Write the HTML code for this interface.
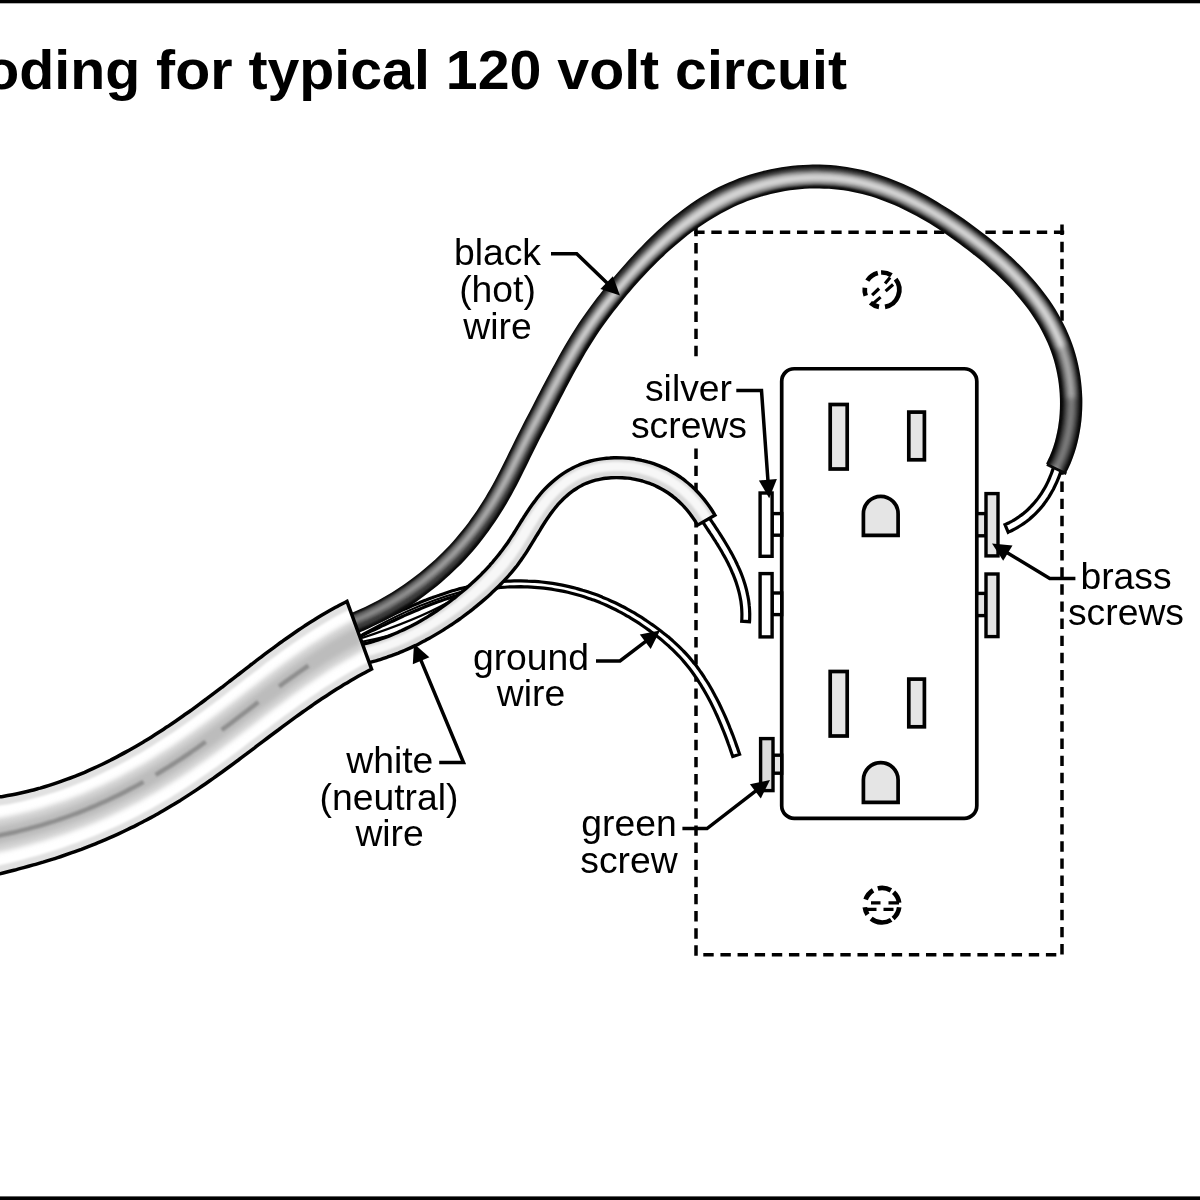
<!DOCTYPE html>
<html lang="en">
<head>
<meta charset="utf-8">
<title>Color coding for typical 120 volt circuit</title>
<style>
html,body{margin:0;padding:0;background:#fff;}
body{width:1200px;height:1200px;overflow:hidden;font-family:"Liberation Sans",sans-serif;}
svg{display:block;}
</style>
</head>
<body>
<svg width="1200" height="1200" viewBox="0 0 1200 1200">
<defs>
<filter id="b1" x="-5%" y="-5%" width="110%" height="110%"><feGaussianBlur stdDeviation="1.3"/></filter>
<filter id="b2" x="-5%" y="-5%" width="110%" height="110%"><feGaussianBlur stdDeviation="2.6"/></filter>
<filter id="b3" x="-5%" y="-5%" width="110%" height="110%"><feGaussianBlur stdDeviation="0.9"/></filter>
<linearGradient id="g2" gradientUnits="userSpaceOnUse" x1="350" y1="620" x2="600" y2="320"><stop offset="0" stop-color="#5c5c5c"/><stop offset="0.55" stop-color="#707070"/><stop offset="1" stop-color="#7c7c7c"/></linearGradient>
<linearGradient id="g3" gradientUnits="userSpaceOnUse" x1="350" y1="620" x2="600" y2="320"><stop offset="0" stop-color="#747474"/><stop offset="0.55" stop-color="#989898"/><stop offset="1" stop-color="#b2b2b2"/></linearGradient>
<linearGradient id="g4" gradientUnits="userSpaceOnUse" x1="350" y1="620" x2="600" y2="320"><stop offset="0" stop-color="#8e8e8e"/><stop offset="0.55" stop-color="#b6b6b6"/><stop offset="1" stop-color="#d2d2d2"/></linearGradient>
<clipPath id="cBlack"><path d="M332.8 620.1C334.4 619.5 339.1 617.9 342.2 616.8C345.2 615.6 348.3 614.4 351.4 613.1C354.5 611.9 357.5 610.5 360.5 609.1C363.6 607.8 366.6 606.3 369.5 604.8C372.5 603.4 375.5 601.8 378.4 600.2C381.3 598.6 384.2 597.0 387.1 595.3C390.0 593.6 392.9 591.8 395.7 590.0C398.5 588.2 401.3 586.4 404.0 584.5C406.8 582.6 409.5 580.6 412.2 578.6C414.9 576.7 417.5 574.6 420.1 572.5C422.7 570.4 425.3 568.3 427.8 566.1C430.4 564.0 432.8 561.7 435.3 559.5C437.7 557.2 440.1 554.9 442.5 552.5C444.8 550.2 447.1 547.8 449.4 545.4C451.7 542.9 453.9 540.5 456.0 538.0C458.2 535.4 460.3 532.9 462.4 530.3C464.4 527.7 466.5 525.1 468.5 522.4C470.4 519.7 472.4 517.0 474.3 514.3C476.2 511.6 478.0 508.8 479.8 506.0C481.7 503.2 483.4 500.3 485.2 497.5C486.9 494.6 488.6 491.7 490.3 488.8C491.9 485.9 493.5 483.0 495.1 480.0C496.7 477.1 498.2 474.1 499.8 471.1C501.3 468.1 502.8 465.0 504.3 462.0C505.8 458.9 507.3 455.8 508.8 452.7C510.3 449.7 511.9 446.5 513.4 443.4C514.9 440.3 516.5 437.2 518.1 434.1C519.7 431.0 521.2 427.9 522.8 424.8C524.4 421.7 526.0 418.7 527.6 415.6C529.2 412.5 530.8 409.5 532.3 406.4C533.9 403.3 535.5 400.2 537.1 397.1C538.7 394.0 540.3 390.9 541.9 387.8C543.5 384.7 545.1 381.6 546.8 378.5C548.4 375.4 550.1 372.3 551.7 369.2C553.4 366.1 555.1 363.0 556.8 359.9C558.5 356.8 560.2 353.7 561.9 350.7C563.7 347.6 565.5 344.6 567.3 341.5C569.1 338.5 570.9 335.5 572.8 332.5C574.7 329.5 576.6 326.6 578.5 323.6C580.4 320.7 582.4 317.8 584.4 314.9C586.4 312.1 588.5 309.2 590.5 306.4C592.6 303.6 594.7 300.8 596.8 298.0C599.0 295.3 601.1 292.6 603.3 289.8C605.5 287.1 607.7 284.4 609.9 281.7C612.2 279.0 614.4 276.4 616.7 273.7C619.0 271.1 621.3 268.4 623.7 265.7C626.0 263.1 628.4 260.4 630.8 257.8C633.1 255.2 635.6 252.5 638.0 249.9C640.5 247.4 643.0 244.8 645.5 242.2C648.0 239.7 650.6 237.2 653.2 234.7C655.8 232.2 658.4 229.8 661.1 227.4C663.8 225.0 666.5 222.6 669.3 220.3C672.0 218.0 674.8 215.7 677.7 213.5C680.5 211.3 683.4 209.1 686.3 207.0C689.3 204.9 692.2 202.8 695.2 200.8C698.3 198.8 701.3 196.8 704.4 195.0C707.5 193.1 710.7 191.3 713.9 189.6C717.1 187.9 720.4 186.3 723.7 184.8C727.0 183.2 730.4 181.8 733.8 180.4C737.2 179.1 740.6 177.8 744.1 176.6C747.6 175.4 751.1 174.3 754.6 173.3C758.1 172.2 761.7 171.3 765.2 170.5C768.8 169.6 772.4 168.9 776.0 168.2C779.6 167.5 783.2 167.0 786.9 166.5C790.5 166.0 794.2 165.6 797.8 165.3C801.4 165.0 805.1 164.8 808.8 164.7C812.4 164.6 816.1 164.5 819.7 164.6C823.4 164.7 827.0 164.8 830.6 165.1C834.3 165.4 837.9 165.7 841.5 166.2C845.1 166.7 848.7 167.2 852.2 167.9C855.8 168.5 859.3 169.3 862.8 170.1C866.3 171.0 869.8 171.9 873.2 172.9C876.7 173.9 880.1 175.0 883.5 176.2C886.9 177.3 890.2 178.6 893.6 179.9C896.9 181.2 900.2 182.6 903.5 184.1C906.7 185.5 910.0 187.1 913.2 188.6C916.4 190.2 919.6 191.9 922.8 193.6C925.9 195.3 929.1 197.0 932.2 198.8C935.3 200.6 938.4 202.5 941.5 204.4C944.5 206.2 947.6 208.2 950.6 210.1C953.6 212.1 956.6 214.1 959.6 216.1C962.6 218.2 965.5 220.2 968.5 222.3C971.4 224.4 974.3 226.6 977.2 228.7C980.1 230.9 982.9 233.1 985.8 235.3C988.6 237.5 991.4 239.8 994.2 242.1C997.0 244.4 999.8 246.7 1002.5 249.1C1005.2 251.5 1007.9 253.9 1010.6 256.3C1013.2 258.7 1015.9 261.2 1018.4 263.8C1021.0 266.3 1023.5 268.9 1026.0 271.5C1028.5 274.1 1030.9 276.7 1033.3 279.4C1035.6 282.1 1037.9 284.9 1040.2 287.7C1042.4 290.5 1044.6 293.3 1046.7 296.2C1048.8 299.1 1050.8 302.0 1052.8 305.0C1054.8 308.0 1056.6 311.1 1058.4 314.2C1060.2 317.3 1061.9 320.5 1063.5 323.7C1065.2 326.9 1066.7 330.2 1068.1 333.5C1069.6 336.8 1070.9 340.2 1072.1 343.6C1073.4 347.0 1074.5 350.5 1075.5 354.1C1076.5 357.6 1077.4 361.2 1078.2 364.8C1079.0 368.4 1079.7 372.1 1080.3 375.7C1080.8 379.4 1081.3 383.1 1081.6 386.8C1081.9 390.5 1082.2 394.3 1082.3 398.0C1082.4 401.7 1082.3 405.5 1082.2 409.2C1082.0 413.0 1081.8 416.7 1081.4 420.4C1081.0 424.1 1080.5 427.9 1079.8 431.5C1079.2 435.2 1078.4 438.9 1077.5 442.5C1076.6 446.1 1075.6 449.7 1074.4 453.3C1073.2 456.8 1071.9 460.4 1070.5 463.8C1069.0 467.2 1066.5 472.3 1065.7 474.0L1046.2 463.8C1046.8 462.4 1048.9 458.2 1050.1 455.3C1051.3 452.4 1052.4 449.4 1053.4 446.4C1054.4 443.4 1055.3 440.3 1056.0 437.2C1056.8 434.1 1057.4 430.9 1058.0 427.8C1058.5 424.6 1058.9 421.4 1059.3 418.2C1059.6 414.9 1059.8 411.7 1059.9 408.4C1060.0 405.2 1060.0 401.9 1059.9 398.6C1059.8 395.4 1059.6 392.1 1059.3 388.9C1059.0 385.6 1058.6 382.4 1058.1 379.2C1057.6 376.0 1057.0 372.8 1056.3 369.7C1055.6 366.5 1054.8 363.4 1053.9 360.3C1053.0 357.3 1052.0 354.3 1050.9 351.3C1049.8 348.3 1048.6 345.4 1047.4 342.5C1046.1 339.6 1044.7 336.7 1043.3 333.9C1041.9 331.1 1040.4 328.4 1038.8 325.6C1037.2 322.9 1035.5 320.2 1033.7 317.5C1032.0 314.9 1030.2 312.2 1028.3 309.6C1026.4 307.0 1024.4 304.5 1022.4 301.9C1020.4 299.4 1018.3 296.9 1016.1 294.4C1014.0 291.9 1011.7 289.5 1009.5 287.1C1007.2 284.7 1004.9 282.3 1002.5 280.0C1000.1 277.6 997.7 275.3 995.2 273.0C992.7 270.7 990.2 268.5 987.6 266.2C985.1 264.0 982.4 261.8 979.8 259.6C977.2 257.4 974.5 255.3 971.8 253.2C969.1 251.0 966.3 248.9 963.6 246.9C960.8 244.8 958.0 242.7 955.2 240.7C952.4 238.7 949.6 236.7 946.8 234.8C944.0 232.9 941.1 230.9 938.3 229.1C935.4 227.2 932.5 225.4 929.7 223.6C926.8 221.9 923.9 220.1 920.9 218.5C918.0 216.8 915.1 215.2 912.1 213.7C909.2 212.1 906.2 210.7 903.2 209.2C900.2 207.8 897.2 206.4 894.2 205.1C891.2 203.8 888.2 202.6 885.2 201.4C882.1 200.3 879.1 199.2 876.0 198.1C873.0 197.1 869.9 196.2 866.8 195.3C863.7 194.4 860.6 193.6 857.5 192.9C854.4 192.2 851.2 191.6 848.1 191.0C844.9 190.5 841.8 190.0 838.6 189.7C835.4 189.3 832.2 189.0 829.0 188.8C825.8 188.6 822.5 188.5 819.3 188.4C816.1 188.4 812.8 188.4 809.6 188.5C806.3 188.7 803.1 188.9 799.8 189.2C796.6 189.4 793.3 189.8 790.1 190.3C786.9 190.7 783.6 191.2 780.4 191.9C777.2 192.5 774.0 193.1 770.8 193.9C767.7 194.7 764.5 195.5 761.4 196.5C758.2 197.4 755.1 198.4 752.0 199.5C749.0 200.5 745.9 201.7 742.9 202.9C739.9 204.1 736.9 205.4 734.0 206.8C731.0 208.2 728.2 209.7 725.3 211.2C722.4 212.7 719.5 214.2 716.7 215.9C713.9 217.5 711.0 219.2 708.3 220.9C705.5 222.7 702.7 224.5 700.0 226.4C697.3 228.2 694.6 230.2 691.9 232.1C689.2 234.1 686.6 236.2 684.0 238.2C681.4 240.3 678.8 242.5 676.2 244.7C673.7 246.8 671.1 249.1 668.6 251.3C666.1 253.6 663.7 255.9 661.2 258.3C658.8 260.6 656.3 263.0 653.9 265.4C651.5 267.8 649.2 270.2 646.8 272.7C644.5 275.2 642.1 277.6 639.8 280.2C637.6 282.7 635.3 285.2 633.1 287.8C630.9 290.4 628.7 293.0 626.5 295.6C624.4 298.2 622.2 300.8 620.1 303.4C618.0 306.0 616.0 308.6 613.9 311.2C611.9 313.9 609.9 316.5 607.9 319.2C606.0 321.9 604.0 324.6 602.1 327.3C600.2 330.0 598.4 332.8 596.5 335.6C594.7 338.3 592.9 341.1 591.1 344.0C589.3 346.8 587.6 349.7 585.8 352.6C584.1 355.5 582.4 358.5 580.7 361.4C579.0 364.4 577.3 367.3 575.7 370.3C574.0 373.3 572.4 376.4 570.7 379.4C569.1 382.4 567.5 385.5 565.9 388.5C564.3 391.6 562.7 394.7 561.1 397.7C559.5 400.8 557.9 403.9 556.3 407.0C554.7 410.1 553.1 413.2 551.6 416.3C550.0 419.4 548.4 422.5 546.8 425.5C545.2 428.6 543.6 431.7 542.0 434.7C540.4 437.8 538.9 440.8 537.3 443.9C535.8 446.9 534.3 449.9 532.8 453.0C531.3 456.0 529.8 459.1 528.3 462.2C526.8 465.3 525.2 468.4 523.7 471.5C522.2 474.6 520.6 477.8 519.0 480.9C517.4 484.0 515.8 487.2 514.1 490.3C512.5 493.4 510.7 496.5 509.0 499.5C507.2 502.6 505.4 505.7 503.6 508.7C501.7 511.7 499.8 514.7 497.9 517.7C495.9 520.7 493.9 523.6 491.9 526.5C489.8 529.5 487.8 532.4 485.6 535.2C483.5 538.1 481.3 540.9 479.1 543.7C476.8 546.5 474.5 549.2 472.2 551.9C469.8 554.6 467.4 557.3 465.0 559.9C462.5 562.5 460.0 565.1 457.5 567.6C454.9 570.2 452.3 572.6 449.7 575.1C447.1 577.5 444.4 579.9 441.6 582.2C438.9 584.6 436.1 586.8 433.3 589.1C430.5 591.3 427.6 593.5 424.8 595.6C421.9 597.8 418.9 599.8 416.0 601.9C413.0 603.9 410.0 605.9 407.0 607.8C403.9 609.7 400.9 611.6 397.8 613.4C394.7 615.2 391.6 617.0 388.4 618.7C385.2 620.4 382.1 622.0 378.9 623.6C375.7 625.2 372.4 626.7 369.2 628.2C365.9 629.7 362.6 631.1 359.3 632.4C356.1 633.8 352.7 635.1 349.4 636.3C346.1 637.5 341.0 639.2 339.4 639.8Z"/></clipPath>
<clipPath id="cWhite"><path d="M343.5 648.1C344.4 647.9 347.2 647.5 349.0 647.2C350.8 646.9 352.6 646.5 354.4 646.2C356.2 645.8 358.0 645.4 359.8 645.0C361.6 644.6 363.4 644.2 365.1 643.7C366.9 643.2 368.7 642.8 370.4 642.3C372.2 641.8 374.0 641.2 375.7 640.7C377.4 640.1 379.2 639.5 380.9 638.9C382.6 638.4 384.4 637.7 386.1 637.1C387.8 636.5 389.5 635.8 391.2 635.1C392.9 634.4 394.6 633.7 396.3 633.0C397.9 632.3 399.6 631.5 401.3 630.8C403.0 630.0 404.6 629.2 406.3 628.4C407.9 627.6 409.6 626.8 411.2 626.0C412.8 625.1 414.5 624.3 416.1 623.4C417.7 622.5 419.3 621.6 420.9 620.7C422.5 619.8 424.1 618.9 425.7 617.9C427.3 617.0 428.8 616.0 430.4 615.0C432.0 614.0 433.5 613.0 435.0 612.0C436.6 611.0 438.1 609.9 439.6 608.9C441.2 607.8 442.7 606.8 444.2 605.7C445.7 604.6 447.2 603.5 448.7 602.4C450.2 601.3 451.6 600.1 453.1 599.0C454.6 597.9 456.0 596.7 457.5 595.5C458.9 594.4 460.4 593.2 461.8 592.0C463.2 590.8 464.7 589.6 466.1 588.4C467.5 587.2 468.9 586.0 470.2 584.7C471.6 583.5 473.0 582.3 474.3 581.0C475.7 579.7 477.0 578.5 478.3 577.2C479.7 575.9 481.0 574.6 482.2 573.3C483.5 572.0 484.8 570.7 486.1 569.3C487.3 568.0 488.5 566.7 489.8 565.3C491.0 563.9 492.2 562.6 493.3 561.2C494.5 559.8 495.7 558.4 496.8 557.0C498.0 555.6 499.1 554.2 500.2 552.7C501.4 551.3 502.5 549.9 503.5 548.4C504.6 546.9 505.7 545.5 506.7 544.0C507.8 542.5 508.8 540.9 509.8 539.4C510.8 537.8 511.8 536.2 512.9 534.7C513.9 533.1 514.9 531.4 515.9 529.8C516.9 528.2 517.9 526.6 519.0 524.9C520.0 523.3 521.0 521.6 522.0 520.0C523.1 518.3 524.1 516.6 525.2 515.0C526.3 513.3 527.4 511.6 528.5 510.0C529.6 508.3 530.7 506.7 531.9 505.0C533.1 503.4 534.3 501.8 535.5 500.2C536.7 498.5 538.0 496.9 539.3 495.4C540.6 493.8 542.0 492.2 543.3 490.7C544.7 489.2 546.2 487.7 547.6 486.3C549.1 484.8 550.6 483.4 552.1 482.1C553.7 480.7 555.3 479.4 556.9 478.1C558.5 476.8 560.2 475.6 561.9 474.4C563.6 473.2 565.3 472.0 567.1 471.0C568.9 469.9 570.8 468.8 572.6 467.9C574.5 466.9 576.5 466.0 578.4 465.2C580.4 464.3 582.4 463.6 584.4 462.9C586.5 462.2 588.5 461.6 590.6 461.0C592.7 460.5 594.8 460.0 596.9 459.6C599.1 459.2 601.2 458.9 603.4 458.6C605.5 458.3 607.7 458.1 609.8 458.0C612.0 457.8 614.1 457.8 616.3 457.7C618.4 457.7 620.6 457.8 622.7 457.9C624.9 458.0 627.0 458.1 629.1 458.3C631.3 458.6 633.4 458.8 635.5 459.2C637.5 459.5 639.6 459.9 641.7 460.4C643.7 460.8 645.7 461.3 647.7 461.9C649.8 462.4 651.7 463.0 653.7 463.7C655.7 464.4 657.6 465.1 659.5 465.9C661.4 466.7 663.3 467.5 665.2 468.4C667.0 469.3 668.9 470.2 670.7 471.2C672.5 472.2 674.2 473.2 676.0 474.3C677.7 475.4 679.5 476.5 681.1 477.7C682.8 478.9 684.5 480.2 686.1 481.5C687.7 482.7 689.3 484.1 690.9 485.5C692.4 486.8 693.9 488.3 695.4 489.7C696.9 491.2 698.4 492.7 699.8 494.3C701.2 495.9 702.6 497.5 703.9 499.1C705.2 500.8 706.5 502.5 707.8 504.2C709.1 505.9 710.3 507.7 711.5 509.5C712.7 511.3 714.3 514.2 714.9 515.1L697.6 525.1C697.1 524.4 695.7 522.0 694.7 520.4C693.7 518.9 692.7 517.4 691.6 515.9C690.6 514.5 689.5 513.1 688.4 511.7C687.3 510.3 686.1 509.0 684.9 507.7C683.8 506.4 682.6 505.1 681.4 503.9C680.1 502.7 678.9 501.5 677.6 500.4C676.3 499.2 675.0 498.1 673.7 497.1C672.4 496.0 671.0 495.0 669.6 494.0C668.2 493.0 666.8 492.1 665.4 491.2C664.0 490.3 662.6 489.5 661.1 488.7C659.6 487.9 658.1 487.1 656.6 486.4C655.1 485.6 653.5 485.0 652.0 484.3C650.4 483.7 648.9 483.1 647.2 482.6C645.6 482.0 644.0 481.5 642.4 481.0C640.7 480.6 639.1 480.2 637.4 479.8C635.7 479.4 634.0 479.1 632.3 478.8C630.6 478.5 628.8 478.3 627.1 478.1C625.3 477.9 623.5 477.8 621.8 477.7C620.0 477.6 618.2 477.6 616.4 477.6C614.7 477.6 612.9 477.7 611.1 477.8C609.3 477.9 607.6 478.1 605.8 478.3C604.1 478.5 602.4 478.8 600.7 479.1C599.0 479.4 597.3 479.8 595.6 480.2C594.0 480.6 592.4 481.1 590.8 481.7C589.2 482.2 587.7 482.8 586.2 483.4C584.6 484.1 583.2 484.7 581.7 485.5C580.2 486.2 578.8 487.0 577.4 487.9C576.0 488.7 574.6 489.7 573.3 490.6C571.9 491.6 570.6 492.6 569.3 493.6C568.0 494.7 566.7 495.8 565.5 496.9C564.2 498.1 563.0 499.2 561.8 500.5C560.6 501.7 559.4 502.9 558.3 504.2C557.2 505.5 556.0 506.8 554.9 508.2C553.8 509.6 552.8 510.9 551.7 512.4C550.6 513.8 549.6 515.3 548.6 516.7C547.5 518.2 546.5 519.7 545.5 521.3C544.5 522.8 543.5 524.4 542.5 526.0C541.5 527.6 540.6 529.2 539.6 530.8C538.6 532.4 537.6 534.1 536.6 535.7C535.6 537.4 534.6 539.0 533.6 540.7C532.6 542.4 531.5 544.0 530.5 545.7C529.5 547.4 528.4 549.1 527.3 550.8C526.3 552.4 525.2 554.1 524.0 555.8C522.9 557.5 521.7 559.1 520.6 560.8C519.4 562.4 518.2 564.1 517.0 565.7C515.7 567.3 514.5 568.9 513.2 570.4C511.9 572.0 510.6 573.5 509.3 575.0C508.0 576.5 506.6 578.0 505.3 579.4C503.9 580.9 502.5 582.3 501.1 583.8C499.7 585.2 498.3 586.6 496.9 588.0C495.5 589.4 494.0 590.8 492.6 592.1C491.1 593.5 489.7 594.8 488.2 596.2C486.7 597.5 485.2 598.8 483.7 600.1C482.2 601.4 480.7 602.7 479.2 603.9C477.7 605.2 476.2 606.5 474.6 607.7C473.1 608.9 471.5 610.1 470.0 611.4C468.4 612.6 466.8 613.8 465.3 614.9C463.7 616.1 462.1 617.3 460.5 618.5C458.9 619.6 457.3 620.8 455.6 621.9C454.0 623.0 452.4 624.1 450.7 625.2C449.1 626.3 447.4 627.4 445.7 628.4C444.1 629.5 442.4 630.6 440.7 631.6C439.0 632.6 437.3 633.6 435.6 634.6C433.9 635.6 432.2 636.6 430.5 637.6C428.8 638.6 427.0 639.5 425.3 640.5C423.5 641.4 421.8 642.3 420.0 643.2C418.3 644.1 416.5 645.0 414.7 645.9C412.9 646.7 411.1 647.6 409.3 648.4C407.5 649.2 405.7 650.0 403.9 650.8C402.0 651.6 400.2 652.3 398.4 653.1C396.5 653.8 394.7 654.5 392.8 655.2C390.9 655.9 389.1 656.5 387.2 657.2C385.3 657.8 383.4 658.5 381.5 659.1C379.6 659.7 377.7 660.2 375.7 660.8C373.8 661.3 371.9 661.8 369.9 662.3C368.0 662.8 366.1 663.3 364.1 663.8C362.1 664.2 360.2 664.6 358.2 665.0C356.2 665.4 354.2 665.8 352.2 666.1C350.2 666.5 347.2 666.9 346.2 667.1Z"/></clipPath>
<clipPath id="cSheath"><path d="M-46.1 800.3C-44.4 800.3 -39.4 800.2 -36.1 800.1C-32.7 800.0 -29.4 799.9 -26.2 799.6C-22.9 799.4 -19.6 799.2 -16.4 798.8C-13.1 798.5 -9.9 798.2 -6.7 797.7C-3.5 797.3 -0.3 796.9 2.9 796.4C6.1 795.8 9.2 795.3 12.4 794.7C15.5 794.1 18.6 793.4 21.7 792.7C24.8 792.0 27.9 791.3 31.0 790.5C34.1 789.8 37.1 788.9 40.2 788.1C43.2 787.2 46.2 786.3 49.2 785.4C52.3 784.4 55.3 783.4 58.2 782.4C61.2 781.4 64.2 780.3 67.1 779.2C70.1 778.2 73.0 777.0 75.9 775.9C78.9 774.7 81.8 773.5 84.7 772.3C87.5 771.0 90.4 769.7 93.3 768.4C96.2 767.1 99.0 765.8 101.8 764.5C104.7 763.1 107.5 761.7 110.3 760.3C113.1 758.8 115.9 757.4 118.7 755.9C121.5 754.4 124.3 752.9 127.0 751.4C129.8 749.9 132.5 748.3 135.3 746.7C138.0 745.1 140.7 743.5 143.4 741.9C146.2 740.2 148.9 738.6 151.6 736.9C154.2 735.2 156.9 733.5 159.6 731.8C162.3 730.1 164.9 728.3 167.6 726.6C170.2 724.8 172.8 723.0 175.5 721.2C178.1 719.4 180.7 717.6 183.3 715.8C185.9 714.0 188.5 712.1 191.1 710.3C193.7 708.4 196.3 706.5 198.8 704.6C201.4 702.8 204.0 700.8 206.5 698.9C209.1 697.0 211.6 695.1 214.1 693.2C216.7 691.2 219.2 689.3 221.7 687.4C224.3 685.4 226.8 683.5 229.3 681.5C231.8 679.6 234.4 677.6 236.9 675.7C239.4 673.7 241.9 671.8 244.4 669.8C247.0 667.9 249.5 665.9 252.0 664.0C254.5 662.0 257.0 660.1 259.6 658.2C262.1 656.3 264.6 654.3 267.2 652.4C269.7 650.5 272.3 648.6 274.8 646.8C277.4 644.9 279.9 643.0 282.5 641.2C285.1 639.3 287.7 637.5 290.3 635.7C292.9 633.9 295.5 632.1 298.1 630.3C300.7 628.5 303.3 626.8 306.0 625.0C308.6 623.3 311.3 621.6 314.0 620.0C316.6 618.3 319.3 616.6 322.0 615.0C324.8 613.4 327.5 611.8 330.2 610.3C333.0 608.7 335.8 607.2 338.5 605.7C341.3 604.2 345.6 602.1 347.0 601.4L371.6 669.1C370.2 669.9 365.7 672.2 362.8 673.8C359.8 675.4 356.9 677.0 354.0 678.7C351.1 680.4 348.2 682.1 345.4 683.8C342.5 685.5 339.7 687.3 336.8 689.0C334.0 690.8 331.2 692.6 328.4 694.5C325.6 696.3 322.8 698.2 320.0 700.0C317.2 701.9 314.4 703.8 311.7 705.7C308.9 707.6 306.2 709.6 303.4 711.5C300.7 713.5 298.0 715.5 295.2 717.4C292.5 719.4 289.8 721.4 287.1 723.4C284.3 725.4 281.6 727.4 278.9 729.5C276.2 731.5 273.5 733.5 270.8 735.5C268.1 737.6 265.4 739.6 262.7 741.6C260.0 743.7 257.3 745.7 254.6 747.8C251.9 749.8 249.2 751.8 246.5 753.9C243.8 755.9 241.1 757.9 238.4 760.0C235.7 762.0 233.0 764.0 230.3 766.0C227.5 768.0 224.8 770.0 222.1 772.0C219.4 773.9 216.6 775.9 213.9 777.9C211.1 779.8 208.4 781.8 205.6 783.7C202.8 785.6 200.1 787.5 197.3 789.4C194.5 791.3 191.7 793.1 188.9 794.9C186.0 796.8 183.2 798.6 180.4 800.4C177.5 802.1 174.7 803.9 171.8 805.6C168.9 807.4 166.0 809.1 163.1 810.7C160.2 812.4 157.3 814.1 154.4 815.7C151.4 817.3 148.5 818.9 145.5 820.5C142.6 822.0 139.6 823.6 136.6 825.1C133.6 826.6 130.6 828.1 127.6 829.5C124.6 831.0 121.6 832.4 118.5 833.8C115.5 835.2 112.4 836.6 109.4 837.9C106.3 839.3 103.2 840.6 100.1 841.9C97.0 843.2 93.9 844.4 90.8 845.7C87.7 846.9 84.6 848.1 81.4 849.3C78.3 850.4 75.1 851.6 71.9 852.7C68.8 853.8 65.6 854.9 62.4 856.0C59.2 857.0 56.0 858.1 52.8 859.1C49.6 860.1 46.4 861.1 43.1 862.1C39.9 863.0 36.7 864.0 33.4 864.9C30.2 865.8 26.9 866.7 23.7 867.6C20.4 868.5 17.1 869.4 13.9 870.2C10.6 871.1 7.3 871.9 4.0 872.7C0.7 873.6 -2.5 874.4 -5.8 875.2C-9.1 876.0 -12.4 876.7 -15.7 877.5C-19.0 878.3 -22.3 879.0 -25.6 879.8C-28.9 880.5 -32.2 881.3 -35.5 882.0C-38.8 882.7 -43.7 883.8 -45.3 884.1Z"/></clipPath>
</defs>
<rect width="1200" height="1200" fill="#fff"/>
<rect x="0" y="0" width="1200" height="3.3" fill="#000"/>
<rect x="0" y="1196.4" width="1200" height="3.6" fill="#000"/>
<g stroke="#000" stroke-width="3.5" stroke-dasharray="10.4 6.73" fill="none">
<path d="M694.2 232.3 H1064.2"/>
<path d="M703.3 954.7 H1057"/>
<path d="M696 225.9 V956.2"/>
<path d="M1062 224.6 V954.6"/>
</g>
<rect x="686" y="358" width="20" height="89.5" fill="#fff"/>
<g transform="translate(882,289.8)" fill="none" stroke="#000"><path d="M-14.67 -9.17 A17.30 17.30 0 0 1 -4.19 -16.79 M-0.91 -17.28 A17.30 17.30 0 0 1 9.42 -14.51 M13.63 -10.65 A17.30 17.30 0 0 1 3.00 17.04 M-3.00 17.04 A17.30 17.30 0 0 1 -11.58 12.86 M-16.26 5.92 A17.30 17.30 0 0 1 -17.17 -2.11" stroke-width="4.7"/><path d="M-9.9 5.3 L-2.9 -1.3 M3.1 -6.3 L8.1 -12.3 M-8.4 13.3 L-1.4 7.3 M3.6 1.3 L11.1 -5.3" stroke-width="3.2"/></g>
<g transform="translate(882,905.2)" fill="none" stroke="#000"><path d="M-16.36 -5.63 A17.30 17.30 0 0 1 -8.91 -14.83 M-4.19 -16.79 A17.30 17.30 0 0 1 8.91 -14.83 M11.58 -12.86 A17.30 17.30 0 0 1 17.13 -2.41 M17.17 2.11 A17.30 17.30 0 0 1 11.12 13.25 M9.17 14.67 A17.30 17.30 0 0 1 -10.89 13.44 M-14.51 9.42 A17.30 17.30 0 0 1 -17.17 2.11" stroke-width="4.7"/><path d="M-11 -2.25 H-1.5 M6.5 -2.25 H17 M-17.5 4.25 H-5.5 M1.5 4.25 H11.5" stroke-width="3.2"/></g>
<rect x="781.7" y="368.75" width="195.1" height="449.55" rx="12.5" ry="12.5" fill="#fff" stroke="#000" stroke-width="3.7"/>
<g fill="#e5e5e5" stroke="#000" stroke-width="3.7">
<rect x="830.2" y="404.5" width="17" height="64.5"/>
<rect x="908.8" y="412.1" width="15.6" height="47.7"/>
<path d="M863.4 535.3 V513.65 A17.35 17.35 0 0 1 898.1 513.65 V535.3 Z"/>
<rect x="830.2" y="671.5" width="17" height="64.5"/>
<rect x="908.8" y="679.1" width="15.6" height="47.7"/>
<path d="M863.4 802.3 V779.85 A17.35 17.35 0 0 1 898.1 779.85 V802.3 Z"/>
</g>
<g stroke="#000" stroke-width="3.4">
<rect x="772.1" y="513.6" width="9.6" height="21.6" fill="#fff"/>
<rect x="760.1" y="493" width="12" height="63.3" fill="#fff"/>
<rect x="772.1" y="593" width="9.6" height="21.6" fill="#fff"/>
<rect x="760.1" y="573.6" width="12" height="63.3" fill="#fff"/>
<rect x="976.8" y="513.6" width="9.2" height="22.2" fill="#e5e5e5"/>
<rect x="986" y="493.6" width="12" height="62.3" fill="#e5e5e5"/>
<rect x="976.8" y="593.4" width="9.2" height="22.2" fill="#e5e5e5"/>
<rect x="986" y="574" width="12" height="62.6" fill="#e5e5e5"/>
<rect x="773" y="755.2" width="8.7" height="18" fill="#e5e5e5"/>
<rect x="760.6" y="738.6" width="12.4" height="52" fill="#dcdcdc"/>
</g>
<path d="M350.9 634.1C351.9 633.7 355.0 632.3 357.0 631.4C359.0 630.4 361.1 629.5 363.1 628.5C365.1 627.6 367.2 626.6 369.2 625.7C371.3 624.7 373.4 623.7 375.4 622.7C377.5 621.8 379.6 620.8 381.6 619.8C383.7 618.8 385.8 617.8 387.9 616.9C390.0 615.9 392.1 614.9 394.2 613.9C396.2 613.0 398.4 612.0 400.5 611.0C402.6 610.1 404.7 609.1 406.8 608.2C408.9 607.3 411.1 606.3 413.2 605.4C415.3 604.5 417.5 603.6 419.6 602.7C421.8 601.8 423.9 600.9 426.1 600.1C428.3 599.2 430.4 598.4 432.6 597.6C434.8 596.7 437.0 595.9 439.2 595.2C441.4 594.4 443.6 593.6 445.8 592.9C448.0 592.2 450.2 591.5 452.4 590.8C454.6 590.1 456.9 589.5 459.1 588.9C461.3 588.3 463.6 587.7 465.9 587.2C468.1 586.6 470.4 586.1 472.6 585.6C474.9 585.2 477.2 584.7 479.5 584.3C481.8 583.9 484.0 583.5 486.3 583.2C488.6 582.9 490.9 582.6 493.2 582.3C495.5 582.1 497.8 581.8 500.1 581.6C502.4 581.5 504.8 581.3 507.1 581.2C509.4 581.1 511.7 581.0 514.0 580.9C516.3 580.9 518.6 580.9 520.9 580.9C523.3 580.9 525.6 581.0 527.9 581.1C530.2 581.1 532.5 581.3 534.8 581.4C537.1 581.6 539.4 581.8 541.7 582.0C544.0 582.3 546.3 582.6 548.6 582.9C550.9 583.2 553.2 583.5 555.5 583.9C557.8 584.3 560.1 584.7 562.3 585.1C564.6 585.6 566.9 586.1 569.1 586.6C571.4 587.1 573.7 587.7 575.9 588.3C578.1 588.9 580.4 589.5 582.6 590.2C584.8 590.8 587.1 591.5 589.3 592.3C591.5 593.0 593.7 593.8 595.9 594.6C598.1 595.4 600.2 596.3 602.4 597.2C604.6 598.0 606.7 599.0 608.9 599.9C611.0 600.8 613.1 601.8 615.2 602.8C617.4 603.8 619.5 604.9 621.5 606.0C623.6 607.0 625.7 608.1 627.8 609.3C629.8 610.4 631.8 611.6 633.9 612.7C635.9 613.9 637.9 615.2 639.9 616.4C641.9 617.6 643.8 618.9 645.8 620.2C647.7 621.5 649.6 622.8 651.5 624.2C653.5 625.5 655.3 626.9 657.2 628.2C659.1 629.6 660.9 631.0 662.7 632.5C664.6 633.9 666.4 635.4 668.2 636.8C669.9 638.3 671.7 639.8 673.4 641.4C675.1 642.9 676.8 644.5 678.5 646.1C680.2 647.7 681.8 649.3 683.4 651.0C685.0 652.6 686.6 654.3 688.2 656.1C689.7 657.8 691.2 659.6 692.7 661.4C694.1 663.2 695.6 665.0 697.0 666.8C698.4 668.7 699.7 670.6 701.1 672.5C702.4 674.4 703.7 676.3 704.9 678.3C706.2 680.3 707.4 682.2 708.7 684.2C709.9 686.2 711.0 688.3 712.2 690.3C713.3 692.3 714.5 694.4 715.5 696.5C716.6 698.5 717.7 700.6 718.8 702.7C719.8 704.8 720.8 706.9 721.8 709.1C722.8 711.2 723.8 713.3 724.7 715.4C725.7 717.6 726.6 719.7 727.5 721.9C728.4 724.0 729.3 726.2 730.1 728.4C731.0 730.5 731.8 732.7 732.7 734.8C733.5 737.0 734.3 739.2 735.1 741.3C735.9 743.5 736.6 745.7 737.4 747.8C738.1 750.0 739.2 753.2 739.6 754.3L732.8 756.6C732.4 755.5 731.3 752.3 730.6 750.2C729.9 748.1 729.1 745.9 728.3 743.8C727.6 741.7 726.8 739.5 726.0 737.4C725.2 735.3 724.3 733.1 723.5 731.0C722.7 728.9 721.8 726.8 720.9 724.6C720.0 722.5 719.1 720.4 718.2 718.3C717.3 716.2 716.3 714.1 715.4 712.1C714.4 710.0 713.4 707.9 712.4 705.9C711.4 703.8 710.4 701.8 709.3 699.8C708.2 697.7 707.1 695.7 706.0 693.8C704.9 691.8 703.8 689.8 702.6 687.9C701.5 685.9 700.3 684.0 699.0 682.1C697.8 680.2 696.6 678.3 695.3 676.5C694.0 674.6 692.7 672.8 691.4 671.0C690.0 669.2 688.7 667.5 687.3 665.7C685.9 664.0 684.5 662.3 683.0 660.6C681.5 658.9 680.1 657.3 678.5 655.7C677.0 654.0 675.4 652.5 673.8 650.9C672.2 649.4 670.6 647.8 669.0 646.3C667.3 644.8 665.6 643.4 663.9 641.9C662.2 640.4 660.5 639.0 658.7 637.6C656.9 636.2 655.1 634.8 653.3 633.4C651.5 632.1 649.7 630.7 647.8 629.4C646.0 628.1 644.1 626.8 642.2 625.5C640.3 624.2 638.4 622.9 636.5 621.7C634.6 620.5 632.6 619.3 630.7 618.1C628.7 616.9 626.7 615.8 624.8 614.6C622.8 613.5 620.8 612.4 618.7 611.4C616.7 610.3 614.7 609.3 612.6 608.3C610.6 607.3 608.5 606.3 606.4 605.3C604.4 604.4 602.3 603.5 600.2 602.6C598.1 601.8 595.9 600.9 593.8 600.1C591.7 599.4 589.5 598.6 587.4 597.9C585.2 597.2 583.1 596.5 580.9 595.8C578.8 595.2 576.6 594.6 574.4 594.0C572.2 593.4 570.0 592.8 567.8 592.3C565.6 591.8 563.4 591.3 561.2 590.9C559.0 590.5 556.8 590.1 554.5 589.7C552.3 589.3 550.1 589.0 547.8 588.7C545.6 588.4 543.4 588.1 541.1 587.9C538.9 587.7 536.6 587.5 534.4 587.3C532.1 587.1 529.9 587.0 527.6 586.9C525.4 586.8 523.1 586.8 520.9 586.7C518.6 586.7 516.4 586.7 514.1 586.8C511.9 586.8 509.6 586.9 507.4 587.0C505.1 587.1 502.9 587.3 500.6 587.5C498.4 587.7 496.1 587.9 493.9 588.1C491.6 588.4 489.4 588.7 487.2 589.0C484.9 589.3 482.7 589.7 480.5 590.1C478.3 590.5 476.0 590.9 473.8 591.4C471.6 591.8 469.4 592.3 467.2 592.8C465.0 593.4 462.8 593.9 460.6 594.5C458.5 595.1 456.3 595.8 454.1 596.4C451.9 597.1 449.8 597.8 447.6 598.5C445.4 599.2 443.3 599.9 441.1 600.7C439.0 601.4 436.8 602.2 434.7 603.0C432.5 603.8 430.4 604.6 428.2 605.5C426.1 606.3 424.0 607.2 421.9 608.1C419.7 609.0 417.6 609.8 415.5 610.8C413.4 611.7 411.3 612.6 409.2 613.5C407.1 614.4 405.0 615.4 402.9 616.3C400.8 617.3 398.7 618.3 396.6 619.2C394.5 620.2 392.4 621.2 390.3 622.1C388.3 623.1 386.2 624.1 384.1 625.1C382.0 626.0 380.0 627.0 377.9 628.0C375.8 629.0 373.8 629.9 371.7 630.9C369.7 631.9 367.6 632.8 365.6 633.8C363.5 634.8 361.5 635.7 359.4 636.6C357.4 637.6 354.3 639.0 353.3 639.4Z" fill="#fff" stroke="#000" stroke-width="3.2" stroke-linejoin="miter"/>
<g fill="none" stroke="#000" stroke-width="2.1">
<path d="M362 638 C392 628 420 618 447 603"/>
<path d="M363 641.5 C395 635 425 627 452 608"/>
<path d="M362 634.5 C388 620 420 603 462 591.5"/>
</g>
<path d="M1063.6 461.8C1063.4 462.6 1062.8 464.9 1062.4 466.5C1061.9 468.1 1061.4 469.7 1060.9 471.2C1060.4 472.8 1059.9 474.3 1059.3 475.8C1058.7 477.4 1058.1 478.9 1057.5 480.4C1056.9 481.9 1056.2 483.4 1055.5 484.8C1054.8 486.3 1054.1 487.8 1053.4 489.2C1052.6 490.6 1051.8 492.0 1051.0 493.4C1050.2 494.8 1049.4 496.2 1048.5 497.6C1047.6 498.9 1046.7 500.2 1045.8 501.5C1044.8 502.8 1043.9 504.1 1042.9 505.4C1041.9 506.7 1040.8 507.9 1039.8 509.1C1038.7 510.3 1037.6 511.5 1036.5 512.6C1035.4 513.8 1034.2 514.9 1033.0 516.0C1031.8 517.1 1030.6 518.2 1029.4 519.2C1028.1 520.2 1026.8 521.3 1025.5 522.2C1024.2 523.2 1022.9 524.1 1021.5 525.0C1020.1 525.9 1018.7 526.8 1017.3 527.6C1015.8 528.5 1014.3 529.3 1012.8 530.0C1011.3 530.8 1009.0 531.8 1008.2 532.2L1005.0 524.6C1005.7 524.3 1007.8 523.4 1009.2 522.7C1010.5 522.0 1011.9 521.3 1013.2 520.5C1014.5 519.8 1015.7 519.0 1017.0 518.2C1018.2 517.4 1019.5 516.5 1020.6 515.6C1021.8 514.7 1023.0 513.8 1024.1 512.9C1025.3 512.0 1026.4 511.0 1027.5 510.0C1028.5 509.0 1029.6 508.0 1030.6 506.9C1031.6 505.9 1032.6 504.8 1033.6 503.7C1034.6 502.6 1035.5 501.5 1036.4 500.3C1037.4 499.1 1038.2 498.0 1039.1 496.8C1040.0 495.6 1040.8 494.3 1041.6 493.1C1042.4 491.9 1043.2 490.6 1043.9 489.3C1044.7 488.0 1045.4 486.7 1046.1 485.4C1046.8 484.1 1047.5 482.7 1048.1 481.4C1048.7 480.0 1049.4 478.6 1049.9 477.2C1050.5 475.8 1051.1 474.4 1051.6 473.0C1052.1 471.6 1052.6 470.1 1053.1 468.7C1053.6 467.2 1054.0 465.8 1054.5 464.3C1054.9 462.8 1055.5 460.6 1055.7 459.8Z" fill="#fff" stroke="#000" stroke-width="3.2" stroke-linejoin="miter"/>
<path d="M332.8 620.1C334.4 619.5 339.1 617.9 342.2 616.8C345.2 615.6 348.3 614.4 351.4 613.1C354.5 611.9 357.5 610.5 360.5 609.1C363.6 607.8 366.6 606.3 369.5 604.8C372.5 603.4 375.5 601.8 378.4 600.2C381.3 598.6 384.2 597.0 387.1 595.3C390.0 593.6 392.9 591.8 395.7 590.0C398.5 588.2 401.3 586.4 404.0 584.5C406.8 582.6 409.5 580.6 412.2 578.6C414.9 576.7 417.5 574.6 420.1 572.5C422.7 570.4 425.3 568.3 427.8 566.1C430.4 564.0 432.8 561.7 435.3 559.5C437.7 557.2 440.1 554.9 442.5 552.5C444.8 550.2 447.1 547.8 449.4 545.4C451.7 542.9 453.9 540.5 456.0 538.0C458.2 535.4 460.3 532.9 462.4 530.3C464.4 527.7 466.5 525.1 468.5 522.4C470.4 519.7 472.4 517.0 474.3 514.3C476.2 511.6 478.0 508.8 479.8 506.0C481.7 503.2 483.4 500.3 485.2 497.5C486.9 494.6 488.6 491.7 490.3 488.8C491.9 485.9 493.5 483.0 495.1 480.0C496.7 477.1 498.2 474.1 499.8 471.1C501.3 468.1 502.8 465.0 504.3 462.0C505.8 458.9 507.3 455.8 508.8 452.7C510.3 449.7 511.9 446.5 513.4 443.4C514.9 440.3 516.5 437.2 518.1 434.1C519.7 431.0 521.2 427.9 522.8 424.8C524.4 421.7 526.0 418.7 527.6 415.6C529.2 412.5 530.8 409.5 532.3 406.4C533.9 403.3 535.5 400.2 537.1 397.1C538.7 394.0 540.3 390.9 541.9 387.8C543.5 384.7 545.1 381.6 546.8 378.5C548.4 375.4 550.1 372.3 551.7 369.2C553.4 366.1 555.1 363.0 556.8 359.9C558.5 356.8 560.2 353.7 561.9 350.7C563.7 347.6 565.5 344.6 567.3 341.5C569.1 338.5 570.9 335.5 572.8 332.5C574.7 329.5 576.6 326.6 578.5 323.6C580.4 320.7 582.4 317.8 584.4 314.9C586.4 312.1 588.5 309.2 590.5 306.4C592.6 303.6 594.7 300.8 596.8 298.0C599.0 295.3 601.1 292.6 603.3 289.8C605.5 287.1 607.7 284.4 609.9 281.7C612.2 279.0 614.4 276.4 616.7 273.7C619.0 271.1 621.3 268.4 623.7 265.7C626.0 263.1 628.4 260.4 630.8 257.8C633.1 255.2 635.6 252.5 638.0 249.9C640.5 247.4 643.0 244.8 645.5 242.2C648.0 239.7 650.6 237.2 653.2 234.7C655.8 232.2 658.4 229.8 661.1 227.4C663.8 225.0 666.5 222.6 669.3 220.3C672.0 218.0 674.8 215.7 677.7 213.5C680.5 211.3 683.4 209.1 686.3 207.0C689.3 204.9 692.2 202.8 695.2 200.8C698.3 198.8 701.3 196.8 704.4 195.0C707.5 193.1 710.7 191.3 713.9 189.6C717.1 187.9 720.4 186.3 723.7 184.8C727.0 183.2 730.4 181.8 733.8 180.4C737.2 179.1 740.6 177.8 744.1 176.6C747.6 175.4 751.1 174.3 754.6 173.3C758.1 172.2 761.7 171.3 765.2 170.5C768.8 169.6 772.4 168.9 776.0 168.2C779.6 167.5 783.2 167.0 786.9 166.5C790.5 166.0 794.2 165.6 797.8 165.3C801.4 165.0 805.1 164.8 808.8 164.7C812.4 164.6 816.1 164.5 819.7 164.6C823.4 164.7 827.0 164.8 830.6 165.1C834.3 165.4 837.9 165.7 841.5 166.2C845.1 166.7 848.7 167.2 852.2 167.9C855.8 168.5 859.3 169.3 862.8 170.1C866.3 171.0 869.8 171.9 873.2 172.9C876.7 173.9 880.1 175.0 883.5 176.2C886.9 177.3 890.2 178.6 893.6 179.9C896.9 181.2 900.2 182.6 903.5 184.1C906.7 185.5 910.0 187.1 913.2 188.6C916.4 190.2 919.6 191.9 922.8 193.6C925.9 195.3 929.1 197.0 932.2 198.8C935.3 200.6 938.4 202.5 941.5 204.4C944.5 206.2 947.6 208.2 950.6 210.1C953.6 212.1 956.6 214.1 959.6 216.1C962.6 218.2 965.5 220.2 968.5 222.3C971.4 224.4 974.3 226.6 977.2 228.7C980.1 230.9 982.9 233.1 985.8 235.3C988.6 237.5 991.4 239.8 994.2 242.1C997.0 244.4 999.8 246.7 1002.5 249.1C1005.2 251.5 1007.9 253.9 1010.6 256.3C1013.2 258.7 1015.9 261.2 1018.4 263.8C1021.0 266.3 1023.5 268.9 1026.0 271.5C1028.5 274.1 1030.9 276.7 1033.3 279.4C1035.6 282.1 1037.9 284.9 1040.2 287.7C1042.4 290.5 1044.6 293.3 1046.7 296.2C1048.8 299.1 1050.8 302.0 1052.8 305.0C1054.8 308.0 1056.6 311.1 1058.4 314.2C1060.2 317.3 1061.9 320.5 1063.5 323.7C1065.2 326.9 1066.7 330.2 1068.1 333.5C1069.6 336.8 1070.9 340.2 1072.1 343.6C1073.4 347.0 1074.5 350.5 1075.5 354.1C1076.5 357.6 1077.4 361.2 1078.2 364.8C1079.0 368.4 1079.7 372.1 1080.3 375.7C1080.8 379.4 1081.3 383.1 1081.6 386.8C1081.9 390.5 1082.2 394.3 1082.3 398.0C1082.4 401.7 1082.3 405.5 1082.2 409.2C1082.0 413.0 1081.8 416.7 1081.4 420.4C1081.0 424.1 1080.5 427.9 1079.8 431.5C1079.2 435.2 1078.4 438.9 1077.5 442.5C1076.6 446.1 1075.6 449.7 1074.4 453.3C1073.2 456.8 1071.9 460.4 1070.5 463.8C1069.0 467.2 1066.5 472.3 1065.7 474.0L1046.2 463.8C1046.8 462.4 1048.9 458.2 1050.1 455.3C1051.3 452.4 1052.4 449.4 1053.4 446.4C1054.4 443.4 1055.3 440.3 1056.0 437.2C1056.8 434.1 1057.4 430.9 1058.0 427.8C1058.5 424.6 1058.9 421.4 1059.3 418.2C1059.6 414.9 1059.8 411.7 1059.9 408.4C1060.0 405.2 1060.0 401.9 1059.9 398.6C1059.8 395.4 1059.6 392.1 1059.3 388.9C1059.0 385.6 1058.6 382.4 1058.1 379.2C1057.6 376.0 1057.0 372.8 1056.3 369.7C1055.6 366.5 1054.8 363.4 1053.9 360.3C1053.0 357.3 1052.0 354.3 1050.9 351.3C1049.8 348.3 1048.6 345.4 1047.4 342.5C1046.1 339.6 1044.7 336.7 1043.3 333.9C1041.9 331.1 1040.4 328.4 1038.8 325.6C1037.2 322.9 1035.5 320.2 1033.7 317.5C1032.0 314.9 1030.2 312.2 1028.3 309.6C1026.4 307.0 1024.4 304.5 1022.4 301.9C1020.4 299.4 1018.3 296.9 1016.1 294.4C1014.0 291.9 1011.7 289.5 1009.5 287.1C1007.2 284.7 1004.9 282.3 1002.5 280.0C1000.1 277.6 997.7 275.3 995.2 273.0C992.7 270.7 990.2 268.5 987.6 266.2C985.1 264.0 982.4 261.8 979.8 259.6C977.2 257.4 974.5 255.3 971.8 253.2C969.1 251.0 966.3 248.9 963.6 246.9C960.8 244.8 958.0 242.7 955.2 240.7C952.4 238.7 949.6 236.7 946.8 234.8C944.0 232.9 941.1 230.9 938.3 229.1C935.4 227.2 932.5 225.4 929.7 223.6C926.8 221.9 923.9 220.1 920.9 218.5C918.0 216.8 915.1 215.2 912.1 213.7C909.2 212.1 906.2 210.7 903.2 209.2C900.2 207.8 897.2 206.4 894.2 205.1C891.2 203.8 888.2 202.6 885.2 201.4C882.1 200.3 879.1 199.2 876.0 198.1C873.0 197.1 869.9 196.2 866.8 195.3C863.7 194.4 860.6 193.6 857.5 192.9C854.4 192.2 851.2 191.6 848.1 191.0C844.9 190.5 841.8 190.0 838.6 189.7C835.4 189.3 832.2 189.0 829.0 188.8C825.8 188.6 822.5 188.5 819.3 188.4C816.1 188.4 812.8 188.4 809.6 188.5C806.3 188.7 803.1 188.9 799.8 189.2C796.6 189.4 793.3 189.8 790.1 190.3C786.9 190.7 783.6 191.2 780.4 191.9C777.2 192.5 774.0 193.1 770.8 193.9C767.7 194.7 764.5 195.5 761.4 196.5C758.2 197.4 755.1 198.4 752.0 199.5C749.0 200.5 745.9 201.7 742.9 202.9C739.9 204.1 736.9 205.4 734.0 206.8C731.0 208.2 728.2 209.7 725.3 211.2C722.4 212.7 719.5 214.2 716.7 215.9C713.9 217.5 711.0 219.2 708.3 220.9C705.5 222.7 702.7 224.5 700.0 226.4C697.3 228.2 694.6 230.2 691.9 232.1C689.2 234.1 686.6 236.2 684.0 238.2C681.4 240.3 678.8 242.5 676.2 244.7C673.7 246.8 671.1 249.1 668.6 251.3C666.1 253.6 663.7 255.9 661.2 258.3C658.8 260.6 656.3 263.0 653.9 265.4C651.5 267.8 649.2 270.2 646.8 272.7C644.5 275.2 642.1 277.6 639.8 280.2C637.6 282.7 635.3 285.2 633.1 287.8C630.9 290.4 628.7 293.0 626.5 295.6C624.4 298.2 622.2 300.8 620.1 303.4C618.0 306.0 616.0 308.6 613.9 311.2C611.9 313.9 609.9 316.5 607.9 319.2C606.0 321.9 604.0 324.6 602.1 327.3C600.2 330.0 598.4 332.8 596.5 335.6C594.7 338.3 592.9 341.1 591.1 344.0C589.3 346.8 587.6 349.7 585.8 352.6C584.1 355.5 582.4 358.5 580.7 361.4C579.0 364.4 577.3 367.3 575.7 370.3C574.0 373.3 572.4 376.4 570.7 379.4C569.1 382.4 567.5 385.5 565.9 388.5C564.3 391.6 562.7 394.7 561.1 397.7C559.5 400.8 557.9 403.9 556.3 407.0C554.7 410.1 553.1 413.2 551.6 416.3C550.0 419.4 548.4 422.5 546.8 425.5C545.2 428.6 543.6 431.7 542.0 434.7C540.4 437.8 538.9 440.8 537.3 443.9C535.8 446.9 534.3 449.9 532.8 453.0C531.3 456.0 529.8 459.1 528.3 462.2C526.8 465.3 525.2 468.4 523.7 471.5C522.2 474.6 520.6 477.8 519.0 480.9C517.4 484.0 515.8 487.2 514.1 490.3C512.5 493.4 510.7 496.5 509.0 499.5C507.2 502.6 505.4 505.7 503.6 508.7C501.7 511.7 499.8 514.7 497.9 517.7C495.9 520.7 493.9 523.6 491.9 526.5C489.8 529.5 487.8 532.4 485.6 535.2C483.5 538.1 481.3 540.9 479.1 543.7C476.8 546.5 474.5 549.2 472.2 551.9C469.8 554.6 467.4 557.3 465.0 559.9C462.5 562.5 460.0 565.1 457.5 567.6C454.9 570.2 452.3 572.6 449.7 575.1C447.1 577.5 444.4 579.9 441.6 582.2C438.9 584.6 436.1 586.8 433.3 589.1C430.5 591.3 427.6 593.5 424.8 595.6C421.9 597.8 418.9 599.8 416.0 601.9C413.0 603.9 410.0 605.9 407.0 607.8C403.9 609.7 400.9 611.6 397.8 613.4C394.7 615.2 391.6 617.0 388.4 618.7C385.2 620.4 382.1 622.0 378.9 623.6C375.7 625.2 372.4 626.7 369.2 628.2C365.9 629.7 362.6 631.1 359.3 632.4C356.1 633.8 352.7 635.1 349.4 636.3C346.1 637.5 341.0 639.2 339.4 639.8Z" fill="#0a0a0a"/>
<g clip-path="url(#cBlack)">
<path d="M333.5 622.2C335.1 621.7 339.8 620.1 343.0 618.9C346.1 617.7 349.2 616.5 352.3 615.2C355.4 614.0 358.4 612.6 361.5 611.2C364.5 609.8 367.5 608.4 370.5 606.9C373.6 605.4 376.5 603.8 379.5 602.2C382.4 600.6 385.4 598.9 388.3 597.2C391.2 595.5 394.0 593.7 396.9 591.9C399.7 590.1 402.5 588.2 405.3 586.3C408.1 584.4 410.8 582.5 413.5 580.4C416.2 578.4 418.9 576.4 421.5 574.3C424.1 572.2 426.7 570.0 429.3 567.8C431.8 565.6 434.3 563.4 436.8 561.1C439.3 558.8 441.7 556.5 444.0 554.1C446.4 551.7 448.7 549.3 451.0 546.9C453.3 544.4 455.5 541.9 457.7 539.4C459.9 536.9 462.0 534.3 464.1 531.7C466.2 529.1 468.2 526.4 470.2 523.7C472.2 521.0 474.2 518.3 476.1 515.5C478.0 512.8 479.8 510.0 481.7 507.2C483.5 504.3 485.3 501.5 487.0 498.6C488.8 495.7 490.5 492.8 492.1 489.9C493.8 487.0 495.4 484.0 497.0 481.1C498.6 478.1 500.2 475.1 501.7 472.1C503.2 469.1 504.7 466.0 506.3 462.9C507.8 459.9 509.2 456.8 510.8 453.7C512.3 450.6 513.8 447.5 515.3 444.4C516.8 441.3 518.4 438.1 520.0 435.0C521.5 431.9 523.1 428.9 524.7 425.8C526.3 422.7 527.9 419.7 529.5 416.6C531.1 413.5 532.6 410.4 534.2 407.4C535.8 404.3 537.4 401.2 539.0 398.1C540.6 395.0 542.2 391.9 543.8 388.8C545.4 385.7 547.0 382.6 548.6 379.5C550.2 376.3 551.9 373.2 553.5 370.2C555.2 367.1 556.9 364.0 558.6 360.9C560.3 357.8 562.0 354.8 563.7 351.7C565.5 348.7 567.2 345.6 569.0 342.6C570.8 339.6 572.7 336.6 574.5 333.6C576.4 330.6 578.3 327.7 580.2 324.8C582.1 321.9 584.1 319.0 586.1 316.1C588.1 313.2 590.1 310.4 592.2 307.6C594.2 304.8 596.3 302.0 598.4 299.3C600.6 296.5 602.7 293.8 604.9 291.1C607.1 288.4 609.3 285.7 611.5 283.0C613.7 280.3 616.0 277.7 618.3 275.0C620.5 272.4 622.8 269.7 625.2 267.1C627.5 264.4 629.9 261.8 632.3 259.2C634.7 256.6 637.1 254.0 639.6 251.5C642.0 248.9 644.5 246.3 647.1 243.8C649.6 241.3 652.2 238.9 654.8 236.4C657.4 234.0 660.0 231.6 662.7 229.2C665.4 226.8 668.1 224.5 670.8 222.2C673.6 219.9 676.4 217.7 679.2 215.5C682.0 213.3 684.9 211.2 687.8 209.1C690.7 207.0 693.7 205.0 696.7 203.0C699.7 201.1 702.7 199.2 705.8 197.3C708.9 195.5 712.0 193.8 715.2 192.1C718.4 190.4 721.6 188.8 724.9 187.3C728.2 185.8 731.5 184.4 734.8 183.0C738.2 181.7 741.6 180.4 745.0 179.2C748.4 178.0 751.9 176.9 755.4 175.9C758.8 174.9 762.4 174.0 765.9 173.2C769.4 172.3 773.0 171.6 776.5 170.9C780.1 170.3 783.7 169.7 787.2 169.2C790.8 168.8 794.4 168.4 798.0 168.1C801.6 167.8 805.2 167.6 808.9 167.5C812.5 167.3 816.1 167.3 819.7 167.4C823.3 167.4 826.9 167.6 830.4 167.9C834.0 168.1 837.6 168.5 841.1 169.0C844.7 169.4 848.2 170.0 851.7 170.6C855.3 171.3 858.7 172.0 862.2 172.8C865.6 173.6 869.1 174.6 872.5 175.6C875.9 176.6 879.3 177.6 882.6 178.8C885.9 180.0 889.3 181.2 892.6 182.5C895.9 183.8 899.1 185.2 902.4 186.6C905.6 188.1 908.8 189.6 912.0 191.1C915.2 192.7 918.4 194.3 921.5 196.0C924.6 197.7 927.7 199.4 930.8 201.2C933.9 203.0 937.0 204.8 940.0 206.7C943.1 208.6 946.1 210.5 949.1 212.4C952.1 214.4 955.1 216.4 958.0 218.4C961.0 220.4 963.9 222.5 966.9 224.6C969.8 226.7 972.7 228.8 975.5 230.9C978.4 233.1 981.2 235.3 984.1 237.5C986.9 239.7 989.7 241.9 992.5 244.2C995.2 246.5 998.0 248.8 1000.7 251.2C1003.4 253.5 1006.1 255.9 1008.7 258.3C1011.4 260.7 1014.0 263.2 1016.5 265.7C1019.1 268.2 1021.6 270.8 1024.0 273.3C1026.5 275.9 1028.9 278.6 1031.2 281.2C1033.5 283.9 1035.8 286.6 1038.0 289.4C1040.2 292.1 1042.4 295.0 1044.5 297.8C1046.6 300.7 1048.6 303.6 1050.5 306.5C1052.4 309.5 1054.3 312.5 1056.1 315.6C1057.8 318.6 1059.5 321.7 1061.1 324.9C1062.7 328.1 1064.2 331.3 1065.6 334.6C1067.0 337.8 1068.4 341.1 1069.6 344.5C1070.8 347.9 1071.9 351.3 1072.9 354.8C1073.9 358.3 1074.8 361.8 1075.6 365.4C1076.3 368.9 1077.0 372.5 1077.6 376.1C1078.1 379.8 1078.6 383.4 1078.9 387.1C1079.2 390.7 1079.4 394.4 1079.5 398.1C1079.6 401.8 1079.6 405.4 1079.5 409.1C1079.3 412.8 1079.1 416.5 1078.7 420.1C1078.3 423.8 1077.8 427.5 1077.2 431.1C1076.5 434.7 1075.8 438.3 1074.9 441.9C1074.0 445.4 1073.0 449.0 1071.8 452.5C1070.7 455.9 1069.4 459.4 1068.0 462.8C1066.6 466.1 1064.1 471.1 1063.3 472.7L1048.8 465.2C1049.5 463.8 1051.7 459.4 1052.9 456.5C1054.1 453.5 1055.3 450.4 1056.3 447.3C1057.3 444.3 1058.2 441.1 1058.9 437.9C1059.7 434.8 1060.4 431.5 1060.9 428.3C1061.5 425.0 1061.9 421.8 1062.3 418.5C1062.6 415.2 1062.8 411.8 1062.9 408.5C1063.0 405.2 1063.1 401.9 1063.0 398.6C1062.8 395.2 1062.6 391.9 1062.3 388.6C1062.0 385.3 1061.6 382.0 1061.1 378.7C1060.6 375.5 1059.9 372.2 1059.2 369.0C1058.5 365.8 1057.7 362.6 1056.8 359.5C1055.9 356.4 1054.9 353.3 1053.8 350.2C1052.6 347.2 1051.4 344.2 1050.2 341.3C1048.9 338.3 1047.5 335.4 1046.0 332.6C1044.6 329.7 1043.0 326.9 1041.4 324.1C1039.8 321.3 1038.1 318.6 1036.3 315.8C1034.5 313.1 1032.7 310.5 1030.7 307.8C1028.8 305.2 1026.8 302.6 1024.8 300.0C1022.7 297.4 1020.6 294.9 1018.4 292.4C1016.2 289.9 1014.0 287.4 1011.7 285.0C1009.4 282.5 1007.0 280.1 1004.6 277.8C1002.2 275.4 999.8 273.1 997.3 270.7C994.8 268.4 992.2 266.1 989.6 263.9C987.1 261.6 984.4 259.4 981.8 257.2C979.1 255.0 976.4 252.9 973.7 250.7C971.0 248.6 968.2 246.5 965.4 244.4C962.7 242.3 959.9 240.2 957.0 238.2C954.2 236.2 951.4 234.2 948.6 232.2C945.7 230.3 942.8 228.4 940.0 226.5C937.1 224.6 934.2 222.8 931.3 221.0C928.4 219.2 925.4 217.5 922.5 215.8C919.5 214.1 916.6 212.5 913.6 210.9C910.6 209.4 907.6 207.9 904.6 206.4C901.6 205.0 898.5 203.6 895.5 202.3C892.4 200.9 889.4 199.7 886.3 198.5C883.2 197.3 880.1 196.2 877.0 195.2C873.9 194.1 870.8 193.2 867.7 192.3C864.5 191.4 861.4 190.6 858.2 189.9C855.0 189.1 851.8 188.5 848.6 187.9C845.4 187.4 842.2 186.9 839.0 186.5C835.7 186.2 832.5 185.9 829.2 185.7C825.9 185.4 822.7 185.3 819.4 185.3C816.1 185.2 812.8 185.3 809.5 185.4C806.2 185.5 802.9 185.7 799.6 186.0C796.3 186.3 793.0 186.7 789.7 187.1C786.4 187.6 783.1 188.1 779.8 188.7C776.6 189.3 773.3 190.0 770.1 190.8C766.9 191.6 763.6 192.5 760.5 193.4C757.3 194.3 754.1 195.4 751.0 196.4C747.9 197.5 744.8 198.7 741.7 200.0C738.6 201.2 735.6 202.5 732.6 203.9C729.7 205.3 726.7 206.8 723.8 208.4C720.9 209.9 717.9 211.4 715.1 213.1C712.2 214.7 709.3 216.4 706.5 218.2C703.7 219.9 700.9 221.8 698.1 223.7C695.3 225.5 692.6 227.5 689.9 229.5C687.2 231.5 684.5 233.5 681.9 235.6C679.2 237.7 676.6 239.9 674.0 242.1C671.4 244.3 668.8 246.5 666.3 248.8C663.8 251.1 661.2 253.4 658.8 255.8C656.3 258.1 653.8 260.5 651.4 262.9C649.0 265.4 646.6 267.8 644.2 270.3C641.8 272.8 639.5 275.2 637.2 277.8C634.9 280.3 632.6 282.9 630.4 285.5C628.1 288.0 626.0 290.7 623.8 293.3C621.6 295.9 619.5 298.5 617.4 301.1C615.2 303.8 613.2 306.4 611.1 309.1C609.1 311.7 607.1 314.4 605.1 317.1C603.1 319.8 601.1 322.5 599.2 325.3C597.3 328.0 595.4 330.8 593.6 333.6C591.7 336.4 589.9 339.2 588.1 342.1C586.3 345.0 584.5 347.9 582.8 350.8C581.1 353.7 579.3 356.7 577.6 359.7C575.9 362.6 574.3 365.6 572.6 368.6C570.9 371.7 569.3 374.7 567.7 377.7C566.0 380.8 564.4 383.8 562.8 386.9C561.2 390.0 559.6 393.1 558.0 396.1C556.4 399.2 554.8 402.3 553.2 405.4C551.6 408.5 550.1 411.6 548.5 414.7C546.9 417.8 545.3 420.9 543.7 423.9C542.1 427.0 540.5 430.1 539.0 433.2C537.4 436.2 535.8 439.3 534.3 442.3C532.7 445.4 531.2 448.4 529.7 451.5C528.2 454.5 526.7 457.6 525.2 460.7C523.7 463.8 522.2 466.9 520.7 470.0C519.1 473.1 517.6 476.2 516.0 479.3C514.4 482.5 512.8 485.6 511.2 488.7C509.5 491.7 507.8 494.8 506.0 497.9C504.3 500.9 502.5 503.9 500.7 506.9C498.8 509.9 497.0 512.9 495.0 515.9C493.1 518.8 491.1 521.7 489.1 524.6C487.1 527.5 485.1 530.4 482.9 533.2C480.8 536.0 478.7 538.8 476.5 541.6C474.2 544.3 472.0 547.1 469.7 549.7C467.3 552.4 465.0 555.0 462.6 557.6C460.1 560.2 457.7 562.8 455.2 565.3C452.6 567.8 450.1 570.2 447.5 572.6C444.8 575.0 442.2 577.4 439.5 579.7C436.8 582.0 434.1 584.3 431.3 586.5C428.5 588.7 425.7 590.9 422.8 593.0C419.9 595.1 417.0 597.2 414.1 599.2C411.2 601.2 408.2 603.1 405.2 605.0C402.2 606.9 399.2 608.8 396.1 610.6C393.1 612.4 390.0 614.1 386.9 615.8C383.7 617.5 380.6 619.1 377.4 620.7C374.3 622.3 371.1 623.8 367.8 625.3C364.6 626.7 361.4 628.1 358.1 629.4C354.9 630.8 351.6 632.1 348.3 633.3C345.0 634.5 340.0 636.2 338.4 636.8Z" fill="#3a3a3a" filter="url(#b3)"/>
<path d="M333.8 623.1C335.4 622.5 340.1 620.9 343.3 619.8C346.4 618.6 349.5 617.4 352.6 616.1C355.7 614.8 358.8 613.5 361.9 612.1C364.9 610.7 368.0 609.3 371.0 607.8C374.0 606.3 377.0 604.7 380.0 603.1C382.9 601.5 385.9 599.8 388.8 598.1C391.7 596.4 394.6 594.6 397.5 592.8C400.3 591.0 403.1 589.1 405.9 587.2C408.7 585.3 411.5 583.4 414.2 581.3C416.9 579.3 419.6 577.3 422.2 575.2C424.9 573.1 427.5 570.9 430.0 568.7C432.6 566.5 435.1 564.3 437.6 562.0C440.1 559.7 442.5 557.3 444.9 555.0C447.3 552.6 449.6 550.2 451.9 547.8C454.2 545.3 456.5 542.8 458.7 540.3C460.9 537.7 463.1 535.2 465.2 532.5C467.3 529.9 469.4 527.3 471.4 524.6C473.4 521.9 475.4 519.2 477.3 516.4C479.2 513.6 481.1 510.8 483.0 508.0C484.8 505.2 486.6 502.3 488.4 499.4C490.1 496.6 491.9 493.7 493.5 490.7C495.2 487.8 496.9 484.8 498.5 481.9C500.1 478.9 501.7 475.9 503.2 472.8C504.8 469.8 506.3 466.8 507.8 463.7C509.4 460.6 510.9 457.6 512.4 454.5C513.9 451.4 515.4 448.3 517.0 445.2C518.5 442.1 520.1 439.0 521.6 435.9C523.2 432.8 524.8 429.7 526.4 426.7C528.0 423.6 529.6 420.5 531.2 417.5C532.8 414.4 534.4 411.4 536.0 408.3C537.6 405.2 539.2 402.1 540.8 399.0C542.4 395.9 544.0 392.8 545.6 389.7C547.2 386.6 548.9 383.5 550.5 380.4C552.2 377.4 553.8 374.3 555.5 371.2C557.2 368.1 558.9 365.1 560.6 362.0C562.3 359.0 564.1 355.9 565.8 352.9C567.6 349.9 569.4 346.9 571.2 343.9C573.0 340.9 574.8 337.9 576.7 335.0C578.6 332.0 580.5 329.1 582.4 326.2C584.4 323.3 586.3 320.5 588.3 317.7C590.3 314.8 592.4 312.0 594.4 309.3C596.5 306.5 598.6 303.8 600.7 301.1C602.9 298.3 605.0 295.6 607.2 293.0C609.4 290.3 611.6 287.6 613.8 285.0C616.1 282.3 618.4 279.7 620.6 277.1C622.9 274.5 625.3 271.8 627.6 269.2C629.9 266.6 632.3 264.0 634.6 261.4C637.0 258.8 639.4 256.2 641.9 253.7C644.3 251.2 646.8 248.6 649.3 246.2C651.8 243.7 654.4 241.2 657.0 238.8C659.6 236.4 662.2 234.0 664.8 231.6C667.5 229.3 670.2 227.0 672.9 224.7C675.6 222.5 678.4 220.3 681.2 218.1C684.0 215.9 686.8 213.8 689.7 211.8C692.6 209.7 695.5 207.7 698.4 205.7C701.4 203.8 704.4 201.9 707.4 200.1C710.4 198.2 713.5 196.5 716.6 194.8C719.8 193.2 723.0 191.6 726.2 190.1C729.4 188.6 732.7 187.2 736.0 185.9C739.3 184.5 742.6 183.3 746.0 182.1C749.4 181.0 752.8 179.9 756.2 178.9C759.7 177.9 763.1 177.0 766.6 176.2C770.1 175.3 773.6 174.6 777.1 173.9C780.6 173.3 784.1 172.7 787.7 172.3C791.2 171.8 794.7 171.4 798.3 171.1C801.8 170.8 805.4 170.6 809.0 170.5C812.5 170.4 816.1 170.3 819.6 170.4C823.2 170.5 826.7 170.6 830.2 170.9C833.8 171.1 837.3 171.4 840.8 171.8C844.3 172.3 847.8 172.8 851.2 173.4C854.7 174.0 858.1 174.7 861.6 175.5C865.0 176.3 868.4 177.2 871.7 178.1C875.1 179.1 878.4 180.2 881.8 181.3C885.1 182.4 888.4 183.6 891.6 184.9C894.9 186.1 898.1 187.5 901.4 188.9C904.6 190.3 907.8 191.8 911.0 193.3C914.1 194.8 917.3 196.4 920.4 198.1C923.5 199.7 926.6 201.4 929.7 203.2C932.8 204.9 935.9 206.7 938.9 208.6C941.9 210.4 945.0 212.3 948.0 214.2C951.0 216.1 953.9 218.1 956.9 220.1C959.9 222.1 962.8 224.1 965.7 226.2C968.6 228.2 971.5 230.3 974.4 232.4C977.3 234.6 980.1 236.7 983.0 238.9C985.8 241.1 988.6 243.3 991.4 245.5C994.2 247.8 996.9 250.1 999.6 252.4C1002.3 254.7 1005.0 257.1 1007.7 259.5C1010.3 261.9 1012.9 264.3 1015.4 266.8C1017.9 269.3 1020.4 271.9 1022.8 274.4C1025.3 277.0 1027.6 279.6 1030.0 282.3C1032.3 285.0 1034.5 287.7 1036.7 290.4C1038.9 293.2 1041.1 296.0 1043.1 298.8C1045.2 301.6 1047.2 304.5 1049.1 307.5C1051.0 310.4 1052.8 313.4 1054.6 316.4C1056.3 319.5 1058.0 322.6 1059.6 325.7C1061.1 328.8 1062.6 332.0 1064.0 335.3C1065.4 338.5 1066.7 341.8 1067.9 345.1C1069.1 348.5 1070.2 351.9 1071.1 355.3C1072.1 358.8 1073.0 362.3 1073.8 365.8C1074.5 369.3 1075.2 372.9 1075.7 376.4C1076.3 380.0 1076.7 383.6 1077.0 387.2C1077.3 390.9 1077.5 394.5 1077.6 398.1C1077.7 401.8 1077.7 405.4 1077.5 409.1C1077.4 412.7 1077.1 416.3 1076.7 419.9C1076.3 423.6 1075.8 427.2 1075.2 430.7C1074.6 434.3 1073.8 437.9 1072.9 441.4C1072.0 444.9 1071.0 448.4 1069.9 451.8C1068.7 455.2 1067.5 458.6 1066.1 462.0C1064.7 465.3 1062.2 470.1 1061.4 471.8L1050.4 466.0C1051.1 464.6 1053.3 460.2 1054.6 457.2C1055.8 454.1 1057.0 451.0 1058.0 447.9C1059.0 444.8 1059.9 441.6 1060.7 438.4C1061.5 435.2 1062.2 431.9 1062.8 428.6C1063.4 425.3 1063.8 422.0 1064.2 418.7C1064.5 415.3 1064.7 412.0 1064.8 408.6C1065.0 405.2 1065.0 401.9 1064.9 398.5C1064.8 395.1 1064.6 391.8 1064.3 388.4C1064.0 385.1 1063.5 381.7 1063.0 378.4C1062.5 375.1 1061.9 371.8 1061.2 368.6C1060.4 365.3 1059.6 362.1 1058.7 358.9C1057.8 355.8 1056.8 352.6 1055.7 349.6C1054.5 346.5 1053.3 343.4 1052.0 340.5C1050.7 337.5 1049.4 334.5 1047.9 331.6C1046.4 328.7 1044.8 325.9 1043.2 323.0C1041.6 320.2 1039.8 317.4 1038.1 314.7C1036.3 311.9 1034.4 309.2 1032.5 306.6C1030.5 303.9 1028.5 301.3 1026.5 298.7C1024.4 296.1 1022.3 293.5 1020.1 291.0C1017.9 288.4 1015.6 285.9 1013.3 283.5C1011.0 281.0 1008.6 278.6 1006.2 276.2C1003.8 273.8 1001.3 271.4 998.8 269.1C996.2 266.8 993.6 264.5 991.0 262.3C988.4 260.1 985.8 257.8 983.1 255.7C980.4 253.5 977.6 251.3 974.9 249.2C972.1 247.1 969.4 245.0 966.6 242.9C963.8 240.8 960.9 238.8 958.1 236.8C955.3 234.7 952.4 232.8 949.5 230.8C946.7 228.9 943.8 227.0 940.9 225.1C938.0 223.2 935.0 221.4 932.1 219.6C929.2 217.9 926.2 216.2 923.2 214.5C920.2 212.8 917.2 211.2 914.2 209.7C911.2 208.1 908.2 206.7 905.2 205.2C902.1 203.8 899.1 202.4 896.0 201.1C892.9 199.8 889.8 198.6 886.7 197.4C883.6 196.3 880.5 195.2 877.4 194.2C874.2 193.1 871.1 192.2 867.9 191.3C864.8 190.5 861.6 189.7 858.4 189.0C855.2 188.3 852.0 187.6 848.8 187.1C845.6 186.6 842.3 186.1 839.1 185.8C835.8 185.4 832.5 185.2 829.3 185.0C826.0 184.8 822.7 184.7 819.4 184.6C816.1 184.6 812.8 184.6 809.5 184.8C806.1 184.9 802.8 185.1 799.5 185.4C796.2 185.7 792.9 186.1 789.6 186.5C786.3 187.0 783.0 187.5 779.7 188.1C776.5 188.8 773.2 189.5 770.0 190.3C766.7 191.0 763.5 191.9 760.3 192.9C757.1 193.8 753.9 194.8 750.8 195.9C747.7 197.0 744.6 198.2 741.5 199.5C738.4 200.7 735.4 202.0 732.4 203.4C729.4 204.9 726.5 206.4 723.5 207.9C720.6 209.4 717.7 211.0 714.8 212.7C711.9 214.3 709.1 216.0 706.3 217.8C703.4 219.6 700.6 221.4 697.8 223.3C695.1 225.2 692.3 227.1 689.6 229.1C686.9 231.1 684.2 233.1 681.5 235.2C678.9 237.3 676.2 239.5 673.6 241.7C671.0 243.9 668.4 246.1 665.9 248.4C663.3 250.6 660.8 253.0 658.3 255.3C655.8 257.7 653.3 260.0 650.9 262.5C648.5 264.9 646.1 267.3 643.7 269.8C641.3 272.3 638.9 274.7 636.6 277.3C634.3 279.8 632.0 282.3 629.7 284.9C627.5 287.5 625.3 290.1 623.1 292.7C620.9 295.3 618.7 297.9 616.6 300.5C614.4 303.1 612.3 305.7 610.2 308.4C608.2 311.0 606.1 313.7 604.1 316.4C602.1 319.1 600.1 321.8 598.2 324.5C596.2 327.3 594.3 330.0 592.4 332.8C590.5 335.6 588.7 338.5 586.9 341.3C585.0 344.2 583.3 347.1 581.5 350.0C579.7 352.9 578.0 355.9 576.2 358.9C574.5 361.8 572.8 364.8 571.1 367.8C569.4 370.8 567.7 373.8 566.1 376.9C564.4 379.9 562.8 383.0 561.1 386.0C559.5 389.1 557.9 392.2 556.2 395.2C554.6 398.3 553.0 401.4 551.4 404.4C549.7 407.5 548.1 410.6 546.5 413.7C544.9 416.7 543.3 419.8 541.6 422.9C540.0 425.9 538.4 429.0 536.8 432.0C535.2 435.1 533.6 438.1 532.0 441.1C530.4 444.2 528.8 447.2 527.3 450.3C525.7 453.3 524.2 456.4 522.7 459.5C521.1 462.5 519.6 465.6 518.0 468.7C516.5 471.8 514.9 474.9 513.3 478.0C511.7 481.0 510.0 484.1 508.4 487.2C506.7 490.2 505.0 493.2 503.2 496.2C501.4 499.2 499.6 502.2 497.8 505.2C495.9 508.1 494.0 511.1 492.1 514.0C490.2 516.9 488.2 519.7 486.2 522.6C484.1 525.4 482.1 528.2 479.9 531.0C477.8 533.7 475.7 536.5 473.4 539.2C471.2 541.9 469.0 544.5 466.7 547.2C464.4 549.8 462.0 552.4 459.6 554.9C457.2 557.4 454.7 559.9 452.2 562.4C449.7 564.8 447.2 567.2 444.6 569.6C442.0 571.9 439.4 574.2 436.7 576.5C434.1 578.8 431.4 581.0 428.6 583.2C425.9 585.3 423.1 587.4 420.2 589.5C417.4 591.6 414.5 593.6 411.6 595.6C408.7 597.5 405.8 599.4 402.8 601.3C399.9 603.2 396.9 605.0 393.9 606.7C390.8 608.5 387.8 610.2 384.7 611.8C381.6 613.5 378.5 615.1 375.4 616.6C372.3 618.1 369.1 619.6 365.9 621.0C362.7 622.5 359.6 623.8 356.3 625.1C353.1 626.4 349.9 627.7 346.6 628.9C343.4 630.0 338.5 631.7 336.8 632.2Z" fill="url(#g2)" filter="url(#b1)"/>
<path d="M334.5 625.0C336.1 624.5 340.8 622.9 344.0 621.7C347.1 620.5 350.3 619.3 353.4 618.0C356.5 616.7 359.6 615.4 362.7 614.0C365.8 612.6 368.9 611.1 371.9 609.6C375.0 608.1 378.0 606.6 381.0 604.9C384.0 603.3 386.9 601.7 389.9 599.9C392.8 598.2 395.7 596.4 398.6 594.6C401.5 592.8 404.3 590.9 407.1 589.0C409.9 587.0 412.7 585.1 415.4 583.0C418.2 581.0 420.9 578.9 423.6 576.8C426.2 574.7 428.8 572.5 431.4 570.3C434.0 568.1 436.6 565.8 439.1 563.5C441.5 561.2 444.0 558.9 446.4 556.5C448.8 554.1 451.2 551.7 453.5 549.2C455.8 546.7 458.1 544.2 460.3 541.7C462.6 539.1 464.7 536.5 466.9 533.9C469.0 531.3 471.1 528.6 473.1 525.9C475.1 523.2 477.1 520.4 479.1 517.6C481.0 514.9 482.9 512.0 484.8 509.2C486.7 506.4 488.5 503.5 490.3 500.6C492.0 497.7 493.8 494.8 495.5 491.8C497.2 488.9 498.8 485.9 500.5 482.9C502.1 479.9 503.7 476.9 505.2 473.9C506.8 470.8 508.3 467.8 509.9 464.7C511.4 461.6 512.9 458.6 514.4 455.5C516.0 452.4 517.5 449.3 519.0 446.2C520.6 443.1 522.1 440.0 523.7 436.9C525.3 433.9 526.9 430.8 528.5 427.7C530.1 424.7 531.7 421.6 533.3 418.6C534.9 415.5 536.5 412.4 538.1 409.4C539.7 406.3 541.3 403.2 542.9 400.1C544.5 397.0 546.1 393.9 547.7 390.8C549.4 387.7 551.0 384.6 552.6 381.6C554.3 378.5 555.9 375.4 557.6 372.3C559.3 369.3 561.0 366.2 562.7 363.2C564.4 360.1 566.1 357.1 567.9 354.1C569.7 351.1 571.4 348.1 573.2 345.1C575.0 342.1 576.9 339.2 578.7 336.2C580.6 333.3 582.5 330.4 584.4 327.6C586.3 324.7 588.3 321.8 590.3 319.0C592.3 316.2 594.3 313.5 596.4 310.7C598.4 307.9 600.5 305.2 602.6 302.5C604.8 299.8 606.9 297.1 609.1 294.5C611.3 291.8 613.5 289.2 615.7 286.5C617.9 283.9 620.2 281.3 622.5 278.6C624.7 276.0 627.1 273.4 629.4 270.8C631.7 268.2 634.0 265.6 636.4 263.0C638.8 260.5 641.2 257.9 643.6 255.4C646.0 252.8 648.5 250.3 651.0 247.9C653.5 245.4 656.0 242.9 658.6 240.5C661.2 238.1 663.8 235.8 666.4 233.4C669.0 231.1 671.7 228.8 674.4 226.6C677.1 224.3 679.9 222.1 682.6 220.0C685.4 217.9 688.2 215.8 691.1 213.7C693.9 211.7 696.8 209.7 699.7 207.8C702.7 205.8 705.6 203.9 708.6 202.1C711.6 200.3 714.7 198.6 717.8 196.9C720.9 195.3 724.0 193.7 727.2 192.3C730.4 190.8 733.6 189.4 736.9 188.1C740.2 186.8 743.5 185.5 746.8 184.4C750.1 183.2 753.5 182.2 756.9 181.2C760.3 180.2 763.7 179.3 767.1 178.5C770.6 177.7 774.0 176.9 777.5 176.3C781.0 175.7 784.5 175.1 788.0 174.6C791.5 174.2 795.0 173.8 798.5 173.5C802.0 173.2 805.5 173.0 809.0 172.9C812.6 172.8 816.1 172.7 819.6 172.8C823.1 172.9 826.6 173.0 830.1 173.3C833.6 173.5 837.0 173.8 840.5 174.2C844.0 174.6 847.4 175.2 850.8 175.8C854.2 176.4 857.6 177.1 861.0 177.8C864.4 178.6 867.7 179.5 871.1 180.5C874.4 181.4 877.7 182.4 881.0 183.5C884.3 184.7 887.5 185.8 890.8 187.1C894.0 188.4 897.2 189.7 900.4 191.1C903.6 192.5 906.8 193.9 909.9 195.4C913.1 197.0 916.2 198.5 919.3 200.2C922.4 201.8 925.5 203.5 928.5 205.3C931.6 207.0 934.6 208.8 937.6 210.6C940.7 212.4 943.7 214.3 946.7 216.2C949.6 218.1 952.6 220.1 955.5 222.0C958.5 224.0 961.4 226.1 964.3 228.1C967.2 230.2 970.1 232.2 973.0 234.4C975.8 236.5 978.7 238.6 981.5 240.8C984.3 243.0 987.1 245.2 989.9 247.4C992.6 249.6 995.4 251.9 998.1 254.2C1000.7 256.5 1003.4 258.9 1006.0 261.2C1008.6 263.6 1011.2 266.1 1013.7 268.5C1016.2 271.0 1018.7 273.5 1021.1 276.1C1023.5 278.7 1025.9 281.2 1028.2 283.9C1030.5 286.5 1032.7 289.2 1034.9 291.9C1037.0 294.6 1039.2 297.4 1041.2 300.2C1043.2 303.0 1045.2 305.9 1047.1 308.8C1049.0 311.7 1050.8 314.6 1052.5 317.6C1054.2 320.6 1055.9 323.7 1057.4 326.8C1059.0 329.9 1060.4 333.0 1061.8 336.2C1063.2 339.4 1064.4 342.7 1065.6 346.0C1066.8 349.2 1067.9 352.6 1068.8 356.0C1069.8 359.4 1070.7 362.8 1071.4 366.3C1072.2 369.8 1072.8 373.3 1073.3 376.8C1073.9 380.3 1074.3 383.9 1074.6 387.5C1074.9 391.0 1075.1 394.6 1075.2 398.2C1075.3 401.8 1075.3 405.4 1075.1 409.0C1075.0 412.6 1074.7 416.1 1074.3 419.7C1074.0 423.3 1073.5 426.8 1072.8 430.3C1072.2 433.9 1071.5 437.4 1070.6 440.8C1069.7 444.3 1068.7 447.7 1067.6 451.1C1066.5 454.4 1065.2 457.8 1063.8 461.0C1062.5 464.3 1060.1 469.0 1059.3 470.6L1052.6 467.2C1053.3 465.6 1055.5 461.2 1056.8 458.1C1058.1 455.0 1059.2 451.9 1060.3 448.7C1061.3 445.5 1062.3 442.2 1063.1 439.0C1063.9 435.7 1064.6 432.4 1065.2 429.0C1065.7 425.7 1066.2 422.3 1066.5 418.9C1066.9 415.5 1067.1 412.1 1067.2 408.7C1067.4 405.3 1067.4 401.8 1067.3 398.4C1067.2 395.0 1067.0 391.6 1066.7 388.2C1066.3 384.8 1065.9 381.4 1065.4 378.0C1064.9 374.7 1064.2 371.3 1063.5 368.0C1062.8 364.7 1061.9 361.5 1061.0 358.3C1060.1 355.0 1059.0 351.9 1057.9 348.7C1056.8 345.6 1055.6 342.5 1054.2 339.5C1052.9 336.5 1051.5 333.5 1050.0 330.5C1048.5 327.6 1046.9 324.7 1045.3 321.8C1043.6 319.0 1041.9 316.2 1040.1 313.4C1038.3 310.6 1036.4 307.9 1034.4 305.2C1032.5 302.5 1030.4 299.8 1028.3 297.2C1026.2 294.5 1024.1 291.9 1021.9 289.4C1019.6 286.8 1017.4 284.3 1015.0 281.8C1012.7 279.3 1010.3 276.9 1007.9 274.5C1005.4 272.1 1002.9 269.7 1000.4 267.4C997.9 265.0 995.2 262.7 992.6 260.5C990.0 258.2 987.3 256.0 984.6 253.8C981.9 251.6 979.1 249.4 976.4 247.3C973.6 245.2 970.8 243.0 968.0 241.0C965.2 238.9 962.3 236.8 959.5 234.8C956.6 232.8 953.8 230.8 950.9 228.8C948.0 226.9 945.1 225.0 942.2 223.1C939.3 221.2 936.3 219.4 933.4 217.6C930.4 215.8 927.4 214.1 924.4 212.4C921.4 210.7 918.4 209.1 915.4 207.6C912.3 206.0 909.3 204.5 906.2 203.1C903.1 201.6 900.1 200.2 896.9 198.9C893.8 197.6 890.7 196.4 887.6 195.2C884.5 194.0 881.3 192.9 878.1 191.9C875.0 190.9 871.8 189.9 868.6 189.0C865.4 188.1 862.2 187.3 859.0 186.6C855.7 185.9 852.5 185.3 849.2 184.8C845.9 184.2 842.7 183.8 839.4 183.4C836.1 183.0 832.7 182.8 829.4 182.6C826.1 182.4 822.8 182.3 819.4 182.2C816.1 182.2 812.7 182.2 809.4 182.4C806.0 182.5 802.7 182.7 799.3 183.0C796.0 183.3 792.6 183.7 789.3 184.1C785.9 184.6 782.6 185.2 779.3 185.8C776.0 186.4 772.7 187.1 769.4 187.9C766.1 188.7 762.9 189.6 759.6 190.6C756.4 191.5 753.2 192.5 750.0 193.7C746.9 194.8 743.7 196.0 740.6 197.2C737.5 198.5 734.4 199.8 731.4 201.3C728.4 202.7 725.4 204.2 722.4 205.8C719.5 207.3 716.5 208.9 713.6 210.6C710.7 212.3 707.8 214.0 704.9 215.8C702.1 217.6 699.3 219.4 696.5 221.3C693.7 223.2 690.9 225.2 688.1 227.2C685.4 229.2 682.7 231.3 680.0 233.4C677.3 235.5 674.7 237.7 672.0 239.9C669.4 242.1 666.8 244.3 664.2 246.6C661.7 248.9 659.1 251.2 656.6 253.6C654.1 256.0 651.6 258.4 649.2 260.8C646.7 263.2 644.3 265.7 641.9 268.2C639.5 270.6 637.1 273.1 634.8 275.7C632.5 278.2 630.2 280.8 627.9 283.3C625.7 285.9 623.4 288.5 621.2 291.1C619.0 293.7 616.8 296.3 614.7 299.0C612.5 301.6 610.4 304.3 608.3 306.9C606.3 309.6 604.2 312.3 602.2 315.0C600.2 317.7 598.2 320.4 596.2 323.2C594.2 325.9 592.3 328.7 590.4 331.5C588.5 334.3 586.7 337.2 584.8 340.1C583.0 342.9 581.2 345.9 579.4 348.8C577.6 351.7 575.9 354.7 574.1 357.7C572.4 360.6 570.7 363.6 569.0 366.7C567.3 369.7 565.6 372.7 564.0 375.7C562.3 378.8 560.7 381.9 559.0 384.9C557.4 388.0 555.7 391.0 554.1 394.1C552.5 397.2 550.9 400.3 549.2 403.4C547.6 406.4 546.0 409.5 544.4 412.6C542.8 415.7 541.2 418.7 539.6 421.8C537.9 424.9 536.3 427.9 534.7 430.9C533.1 434.0 531.5 437.0 529.9 440.1C528.3 443.1 526.8 446.2 525.2 449.2C523.7 452.3 522.1 455.4 520.6 458.5C519.1 461.6 517.5 464.6 516.0 467.7C514.4 470.8 512.9 473.9 511.3 476.9C509.7 480.0 508.1 483.1 506.4 486.1C504.7 489.1 503.0 492.1 501.3 495.1C499.5 498.1 497.7 501.1 495.9 504.0C494.0 507.0 492.2 509.9 490.3 512.8C488.3 515.6 486.4 518.5 484.4 521.3C482.4 524.1 480.3 526.9 478.2 529.7C476.1 532.4 474.0 535.1 471.8 537.8C469.6 540.5 467.3 543.2 465.1 545.8C462.8 548.4 460.4 550.9 458.0 553.4C455.7 555.9 453.2 558.4 450.7 560.8C448.3 563.3 445.7 565.7 443.2 568.0C440.6 570.4 438.0 572.6 435.4 574.9C432.7 577.1 430.0 579.4 427.3 581.5C424.6 583.7 421.8 585.8 419.0 587.8C416.2 589.9 413.3 591.9 410.4 593.8C407.6 595.8 404.7 597.7 401.7 599.5C398.8 601.4 395.8 603.2 392.8 604.9C389.8 606.7 386.8 608.4 383.7 610.0C380.6 611.6 377.6 613.2 374.5 614.7C371.3 616.3 368.2 617.7 365.1 619.1C361.9 620.5 358.7 621.9 355.5 623.2C352.4 624.5 349.1 625.7 345.9 626.9C342.7 628.1 337.8 629.7 336.2 630.3Z" fill="url(#g3)" filter="url(#b1)"/>
<path d="M335.1 627.0C336.7 626.4 341.5 624.8 344.7 623.6C347.9 622.5 351.1 621.2 354.2 619.9C357.4 618.6 360.5 617.3 363.6 615.9C366.7 614.5 369.8 613.0 372.8 611.5C375.9 610.0 379.0 608.4 382.0 606.8C385.0 605.2 388.0 603.5 390.9 601.7C393.9 600.0 396.8 598.2 399.7 596.4C402.6 594.5 405.5 592.7 408.3 590.7C411.1 588.8 413.9 586.8 416.7 584.7C419.5 582.7 422.2 580.6 424.9 578.5C427.6 576.3 430.2 574.2 432.8 571.9C435.4 569.7 438.0 567.4 440.5 565.1C443.0 562.8 445.5 560.4 447.9 558.0C450.4 555.6 452.7 553.2 455.1 550.7C457.4 548.2 459.7 545.7 462.0 543.1C464.2 540.5 466.4 537.9 468.5 535.2C470.7 532.6 472.8 529.9 474.9 527.2C476.9 524.4 478.9 521.7 480.9 518.9C482.8 516.1 484.8 513.3 486.6 510.4C488.5 507.6 490.4 504.7 492.2 501.7C493.9 498.8 495.7 495.9 497.4 492.9C499.1 490.0 500.8 487.0 502.4 484.0C504.1 481.0 505.7 477.9 507.3 474.9C508.8 471.9 510.4 468.8 511.9 465.7C513.4 462.6 515.0 459.6 516.5 456.5C518.0 453.4 519.5 450.3 521.1 447.2C522.6 444.1 524.2 441.1 525.8 438.0C527.4 434.9 529.0 431.9 530.6 428.8C532.2 425.7 533.8 422.7 535.4 419.6C537.0 416.6 538.6 413.5 540.2 410.4C541.8 407.4 543.4 404.3 545.0 401.2C546.6 398.1 548.2 395.0 549.9 391.9C551.5 388.8 553.1 385.8 554.8 382.7C556.4 379.6 558.1 376.5 559.7 373.5C561.4 370.4 563.1 367.4 564.8 364.3C566.5 361.3 568.2 358.3 570.0 355.3C571.7 352.3 573.5 349.3 575.3 346.3C577.1 343.4 578.9 340.4 580.8 337.5C582.6 334.6 584.5 331.7 586.4 328.9C588.3 326.0 590.3 323.2 592.3 320.4C594.2 317.6 596.3 314.9 598.3 312.1C600.4 309.4 602.4 306.7 604.5 304.0C606.6 301.3 608.8 298.6 611.0 296.0C613.1 293.3 615.3 290.7 617.5 288.1C619.8 285.4 622.0 282.8 624.3 280.2C626.6 277.6 628.9 275.0 631.2 272.4C633.5 269.8 635.8 267.2 638.2 264.7C640.5 262.1 642.9 259.6 645.3 257.0C647.8 254.5 650.2 252.0 652.7 249.6C655.2 247.1 657.7 244.7 660.2 242.3C662.8 239.9 665.4 237.6 668.0 235.2C670.6 232.9 673.3 230.7 675.9 228.4C678.6 226.2 681.3 224.0 684.1 221.9C686.9 219.8 689.7 217.7 692.5 215.7C695.3 213.7 698.2 211.7 701.1 209.8C703.9 207.9 706.9 206.0 709.8 204.2C712.8 202.4 715.8 200.7 718.9 199.1C722.0 197.4 725.1 195.9 728.2 194.4C731.4 193.0 734.6 191.6 737.8 190.3C741.0 189.0 744.3 187.8 747.6 186.6C750.9 185.5 754.2 184.5 757.6 183.5C760.9 182.5 764.3 181.6 767.7 180.8C771.1 180.0 774.5 179.3 778.0 178.7C781.4 178.0 784.8 177.5 788.3 177.0C791.8 176.6 795.2 176.2 798.7 175.9C802.2 175.6 805.6 175.4 809.1 175.3C812.6 175.2 816.1 175.1 819.5 175.2C823.0 175.3 826.5 175.4 829.9 175.6C833.3 175.9 836.8 176.2 840.2 176.6C843.6 177.0 847.0 177.5 850.4 178.1C853.8 178.7 857.1 179.4 860.5 180.2C863.8 181.0 867.1 181.8 870.4 182.8C873.7 183.7 877.0 184.7 880.2 185.8C883.5 186.9 886.7 188.1 889.9 189.3C893.1 190.6 896.3 191.9 899.4 193.3C902.6 194.7 905.7 196.1 908.9 197.6C912.0 199.1 915.1 200.7 918.2 202.3C921.2 203.9 924.3 205.6 927.3 207.3C930.4 209.1 933.4 210.8 936.4 212.7C939.4 214.5 942.4 216.3 945.3 218.2C948.3 220.1 951.3 222.1 954.2 224.0C957.1 226.0 960.0 228.0 962.9 230.1C965.8 232.1 968.7 234.2 971.5 236.3C974.4 238.4 977.2 240.5 980.0 242.7C982.8 244.8 985.6 247.0 988.3 249.2C991.1 251.5 993.8 253.7 996.5 256.0C999.2 258.3 1001.8 260.6 1004.4 263.0C1007.0 265.4 1009.5 267.8 1012.0 270.3C1014.5 272.7 1017.0 275.2 1019.4 277.7C1021.7 280.3 1024.1 282.9 1026.4 285.5C1028.6 288.1 1030.8 290.7 1033.0 293.4C1035.1 296.1 1037.2 298.8 1039.3 301.6C1041.3 304.4 1043.2 307.2 1045.1 310.1C1046.9 313.0 1048.7 315.9 1050.4 318.8C1052.1 321.8 1053.7 324.8 1055.3 327.9C1056.8 330.9 1058.2 334.0 1059.6 337.2C1060.9 340.3 1062.2 343.5 1063.4 346.8C1064.5 350.0 1065.6 353.3 1066.5 356.7C1067.5 360.0 1068.3 363.4 1069.1 366.8C1069.8 370.2 1070.4 373.7 1071.0 377.2C1071.5 380.7 1071.9 384.2 1072.2 387.7C1072.5 391.2 1072.7 394.7 1072.8 398.3C1072.9 401.8 1072.9 405.4 1072.7 408.9C1072.6 412.4 1072.3 415.9 1072.0 419.5C1071.6 423.0 1071.1 426.5 1070.5 429.9C1069.9 433.4 1069.1 436.8 1068.3 440.2C1067.4 443.6 1066.4 447.0 1065.3 450.3C1064.2 453.6 1063.0 456.9 1061.6 460.1C1060.3 463.3 1057.9 468.0 1057.2 469.5L1054.7 468.3C1055.4 466.7 1057.7 462.1 1059.0 459.0C1060.3 455.9 1061.5 452.7 1062.6 449.4C1063.6 446.2 1064.6 442.9 1065.4 439.5C1066.2 436.2 1066.9 432.8 1067.5 429.4C1068.1 426.0 1068.6 422.6 1068.9 419.1C1069.3 415.7 1069.5 412.2 1069.6 408.8C1069.8 405.3 1069.8 401.8 1069.7 398.4C1069.6 394.9 1069.4 391.4 1069.1 388.0C1068.7 384.5 1068.3 381.1 1067.8 377.7C1067.2 374.3 1066.6 370.9 1065.9 367.5C1065.1 364.2 1064.3 360.9 1063.3 357.6C1062.4 354.3 1061.3 351.1 1060.2 347.9C1059.0 344.7 1057.8 341.6 1056.4 338.5C1055.1 335.5 1053.7 332.4 1052.2 329.4C1050.7 326.5 1049.0 323.5 1047.4 320.6C1045.7 317.7 1043.9 314.9 1042.1 312.1C1040.2 309.2 1038.3 306.5 1036.3 303.7C1034.4 301.0 1032.3 298.3 1030.2 295.7C1028.1 293.0 1025.9 290.4 1023.7 287.8C1021.4 285.2 1019.1 282.7 1016.8 280.2C1014.4 277.7 1012.0 275.2 1009.6 272.8C1007.1 270.3 1004.6 267.9 1002.0 265.6C999.5 263.2 996.8 260.9 994.2 258.7C991.5 256.4 988.8 254.2 986.1 251.9C983.4 249.7 980.6 247.6 977.9 245.4C975.1 243.3 972.3 241.1 969.4 239.0C966.6 237.0 963.8 234.9 960.9 232.9C958.0 230.8 955.1 228.8 952.2 226.9C949.3 224.9 946.4 223.0 943.5 221.1C940.5 219.2 937.6 217.3 934.6 215.6C931.6 213.8 928.6 212.0 925.6 210.3C922.6 208.7 919.5 207.0 916.5 205.5C913.4 203.9 910.3 202.4 907.3 200.9C904.2 199.5 901.0 198.1 897.9 196.7C894.8 195.4 891.6 194.1 888.5 193.0C885.3 191.8 882.1 190.6 878.9 189.6C875.7 188.6 872.5 187.6 869.3 186.7C866.0 185.8 862.8 185.0 859.5 184.3C856.2 183.6 852.9 182.9 849.6 182.4C846.3 181.8 843.0 181.4 839.7 181.0C836.3 180.7 833.0 180.4 829.6 180.2C826.2 180.0 822.8 179.9 819.5 179.8C816.1 179.8 812.7 179.8 809.3 180.0C805.9 180.1 802.5 180.3 799.1 180.6C795.7 180.9 792.3 181.3 788.9 181.8C785.6 182.2 782.2 182.8 778.9 183.4C775.5 184.1 772.2 184.8 768.8 185.6C765.5 186.4 762.2 187.3 759.0 188.2C755.7 189.2 752.4 190.3 749.2 191.4C746.0 192.5 742.8 193.7 739.7 195.0C736.6 196.3 733.5 197.7 730.4 199.1C727.3 200.5 724.3 202.1 721.3 203.6C718.3 205.2 715.3 206.8 712.4 208.5C709.4 210.2 706.5 212.0 703.6 213.8C700.8 215.6 697.9 217.5 695.1 219.4C692.3 221.3 689.5 223.3 686.7 225.3C683.9 227.3 681.2 229.4 678.5 231.5C675.8 233.7 673.1 235.8 670.5 238.1C667.8 240.3 665.2 242.5 662.6 244.9C660.0 247.2 657.5 249.5 655.0 251.9C652.4 254.3 649.9 256.7 647.5 259.1C645.0 261.6 642.6 264.0 640.2 266.5C637.7 269.0 635.3 271.5 633.0 274.1C630.7 276.6 628.4 279.2 626.1 281.8C623.8 284.4 621.6 287.0 619.4 289.6C617.2 292.2 615.0 294.8 612.8 297.5C610.7 300.1 608.5 302.8 606.4 305.5C604.3 308.1 602.3 310.8 600.2 313.5C598.2 316.3 596.2 319.0 594.2 321.8C592.3 324.6 590.3 327.4 588.4 330.2C586.5 333.0 584.6 335.9 582.8 338.8C581.0 341.7 579.1 344.6 577.4 347.6C575.6 350.5 573.8 353.5 572.1 356.5C570.3 359.5 568.6 362.5 566.9 365.5C565.2 368.5 563.5 371.6 561.9 374.6C560.2 377.7 558.5 380.7 556.9 383.8C555.2 386.9 553.6 389.9 552.0 393.0C550.4 396.1 548.7 399.2 547.1 402.3C545.5 405.4 543.9 408.4 542.3 411.5C540.7 414.6 539.1 417.7 537.5 420.7C535.9 423.8 534.2 426.8 532.6 429.9C531.0 432.9 529.4 436.0 527.8 439.0C526.3 442.1 524.7 445.2 523.1 448.2C521.6 451.3 520.1 454.4 518.5 457.5C517.0 460.6 515.5 463.6 513.9 466.7C512.4 469.8 510.9 472.9 509.3 475.9C507.7 479.0 506.1 482.0 504.4 485.0C502.8 488.1 501.1 491.1 499.3 494.0C497.6 497.0 495.8 499.9 494.0 502.9C492.2 505.8 490.3 508.7 488.4 511.6C486.5 514.4 484.6 517.3 482.6 520.1C480.6 522.9 478.5 525.6 476.5 528.4C474.4 531.1 472.3 533.8 470.1 536.5C467.9 539.1 465.7 541.8 463.4 544.3C461.2 546.9 458.8 549.5 456.5 552.0C454.1 554.5 451.7 556.9 449.2 559.3C446.8 561.7 444.3 564.1 441.7 566.4C439.2 568.8 436.6 571.0 434.0 573.3C431.3 575.5 428.7 577.7 426.0 579.8C423.3 582.0 420.5 584.1 417.7 586.1C414.9 588.2 412.1 590.1 409.3 592.1C406.4 594.0 403.5 595.9 400.6 597.8C397.7 599.6 394.7 601.4 391.7 603.1C388.8 604.8 385.7 606.5 382.7 608.2C379.7 609.8 376.6 611.3 373.5 612.9C370.4 614.4 367.3 615.8 364.2 617.2C361.1 618.6 357.9 620.0 354.8 621.3C351.6 622.6 348.4 623.8 345.2 625.0C342.0 626.1 337.2 627.7 335.6 628.3Z" fill="url(#g4)" filter="url(#b1)"/>
<path d="M1072.1 343.6C1072.7 345.3 1074.5 350.5 1075.5 354.1C1076.5 357.6 1077.4 361.2 1078.2 364.8C1079.0 368.4 1079.7 372.1 1080.3 375.7C1080.8 379.4 1081.3 383.1 1081.6 386.8C1081.9 390.5 1082.2 394.3 1082.3 398.0C1082.4 401.7 1082.3 405.5 1082.2 409.2C1082.0 413.0 1081.8 416.7 1081.4 420.4C1081.0 424.1 1080.5 427.9 1079.8 431.5C1079.2 435.2 1078.4 438.9 1077.5 442.5C1076.6 446.1 1075.6 449.7 1074.4 453.3C1073.2 456.8 1071.9 460.4 1070.5 463.8C1069.0 467.2 1066.5 472.3 1065.7 474.0L1046.2 463.8C1046.8 462.4 1048.9 458.2 1050.1 455.3C1051.3 452.4 1052.4 449.4 1053.4 446.4C1054.4 443.4 1055.3 440.3 1056.0 437.2C1056.8 434.1 1057.4 430.9 1058.0 427.8C1058.5 424.6 1058.9 421.4 1059.3 418.2C1059.6 414.9 1059.8 411.7 1059.9 408.4C1060.0 405.2 1060.0 401.9 1059.9 398.6C1059.8 395.4 1059.6 392.1 1059.3 388.9C1059.0 385.6 1058.6 382.4 1058.1 379.2C1057.6 376.0 1057.0 372.8 1056.3 369.7C1055.6 366.5 1054.8 363.4 1053.9 360.3C1053.0 357.3 1051.4 352.8 1050.9 351.3Z" fill="#000" opacity="0.22" filter="url(#b2)"/>
<path d="M1082.3 398.0C1082.2 399.9 1082.3 405.5 1082.2 409.2C1082.0 413.0 1081.8 416.7 1081.4 420.4C1081.0 424.1 1080.5 427.9 1079.8 431.5C1079.2 435.2 1078.4 438.9 1077.5 442.5C1076.6 446.1 1075.6 449.7 1074.4 453.3C1073.2 456.8 1071.9 460.4 1070.5 463.8C1069.0 467.2 1066.5 472.3 1065.7 474.0L1046.2 463.8C1046.8 462.4 1048.9 458.2 1050.1 455.3C1051.3 452.4 1052.4 449.4 1053.4 446.4C1054.4 443.4 1055.3 440.3 1056.0 437.2C1056.8 434.1 1057.4 430.9 1058.0 427.8C1058.5 424.6 1058.9 421.4 1059.3 418.2C1059.6 414.9 1059.8 411.7 1059.9 408.4C1060.0 405.2 1059.9 400.3 1059.9 398.6Z" fill="#000" opacity="0.25" filter="url(#b2)"/>
</g>
<path d="M1046.9 464.4 L1066.3 473.8" stroke="#0a0a0a" stroke-width="2.8"/>
<path d="M705.3 511.9C705.7 512.6 707.1 514.7 708.1 516.1C709.0 517.5 710.0 518.9 710.9 520.3C711.9 521.7 712.8 523.1 713.8 524.5C714.7 525.9 715.7 527.4 716.6 528.8C717.6 530.2 718.5 531.7 719.5 533.2C720.4 534.6 721.3 536.1 722.3 537.6C723.2 539.0 724.1 540.5 725.0 542.0C725.9 543.5 726.8 545.0 727.7 546.5C728.6 548.0 729.5 549.5 730.3 551.1C731.2 552.6 732.0 554.1 732.9 555.7C733.7 557.2 734.5 558.8 735.3 560.4C736.0 561.9 736.8 563.5 737.5 565.1C738.3 566.7 739.0 568.3 739.7 569.9C740.4 571.5 741.0 573.1 741.7 574.8C742.3 576.4 742.9 578.0 743.5 579.7C744.0 581.3 744.6 583.0 745.1 584.7C745.6 586.4 746.0 588.1 746.5 589.8C746.9 591.5 747.3 593.2 747.6 594.9C748.0 596.6 748.3 598.4 748.6 600.1C748.8 601.9 749.1 603.6 749.2 605.4C749.4 607.2 749.6 609.0 749.6 610.8C749.7 612.6 749.8 614.4 749.7 616.2C749.7 618.0 749.6 620.8 749.5 621.7L741.7 621.2C741.8 620.3 741.9 617.8 741.9 616.1C742.0 614.4 741.9 612.8 741.8 611.1C741.8 609.5 741.6 607.8 741.5 606.2C741.3 604.5 741.1 602.9 740.9 601.3C740.6 599.7 740.3 598.1 740.0 596.5C739.7 594.9 739.3 593.3 738.9 591.7C738.5 590.1 738.1 588.5 737.6 586.9C737.1 585.4 736.6 583.8 736.1 582.2C735.5 580.7 735.0 579.1 734.4 577.6C733.8 576.0 733.2 574.5 732.5 573.0C731.8 571.4 731.2 569.9 730.5 568.4C729.8 566.9 729.0 565.3 728.3 563.8C727.5 562.3 726.8 560.8 726.0 559.3C725.2 557.8 724.4 556.4 723.5 554.9C722.7 553.4 721.9 551.9 721.0 550.4C720.1 549.0 719.3 547.5 718.4 546.1C717.5 544.6 716.6 543.2 715.7 541.7C714.8 540.3 713.8 538.8 712.9 537.4C712.0 536.0 711.1 534.5 710.1 533.1C709.2 531.7 708.2 530.3 707.3 528.9C706.3 527.4 705.4 526.0 704.5 524.6C703.5 523.2 702.6 521.8 701.6 520.4C700.7 519.0 699.3 517.0 698.8 516.3Z" fill="#fff" stroke="#000" stroke-width="3.2" stroke-linejoin="miter"/>
<path d="M343.5 648.1C344.4 647.9 347.2 647.5 349.0 647.2C350.8 646.9 352.6 646.5 354.4 646.2C356.2 645.8 358.0 645.4 359.8 645.0C361.6 644.6 363.4 644.2 365.1 643.7C366.9 643.2 368.7 642.8 370.4 642.3C372.2 641.8 374.0 641.2 375.7 640.7C377.4 640.1 379.2 639.5 380.9 638.9C382.6 638.4 384.4 637.7 386.1 637.1C387.8 636.5 389.5 635.8 391.2 635.1C392.9 634.4 394.6 633.7 396.3 633.0C397.9 632.3 399.6 631.5 401.3 630.8C403.0 630.0 404.6 629.2 406.3 628.4C407.9 627.6 409.6 626.8 411.2 626.0C412.8 625.1 414.5 624.3 416.1 623.4C417.7 622.5 419.3 621.6 420.9 620.7C422.5 619.8 424.1 618.9 425.7 617.9C427.3 617.0 428.8 616.0 430.4 615.0C432.0 614.0 433.5 613.0 435.0 612.0C436.6 611.0 438.1 609.9 439.6 608.9C441.2 607.8 442.7 606.8 444.2 605.7C445.7 604.6 447.2 603.5 448.7 602.4C450.2 601.3 451.6 600.1 453.1 599.0C454.6 597.9 456.0 596.7 457.5 595.5C458.9 594.4 460.4 593.2 461.8 592.0C463.2 590.8 464.7 589.6 466.1 588.4C467.5 587.2 468.9 586.0 470.2 584.7C471.6 583.5 473.0 582.3 474.3 581.0C475.7 579.7 477.0 578.5 478.3 577.2C479.7 575.9 481.0 574.6 482.2 573.3C483.5 572.0 484.8 570.7 486.1 569.3C487.3 568.0 488.5 566.7 489.8 565.3C491.0 563.9 492.2 562.6 493.3 561.2C494.5 559.8 495.7 558.4 496.8 557.0C498.0 555.6 499.1 554.2 500.2 552.7C501.4 551.3 502.5 549.9 503.5 548.4C504.6 546.9 505.7 545.5 506.7 544.0C507.8 542.5 508.8 540.9 509.8 539.4C510.8 537.8 511.8 536.2 512.9 534.7C513.9 533.1 514.9 531.4 515.9 529.8C516.9 528.2 517.9 526.6 519.0 524.9C520.0 523.3 521.0 521.6 522.0 520.0C523.1 518.3 524.1 516.6 525.2 515.0C526.3 513.3 527.4 511.6 528.5 510.0C529.6 508.3 530.7 506.7 531.9 505.0C533.1 503.4 534.3 501.8 535.5 500.2C536.7 498.5 538.0 496.9 539.3 495.4C540.6 493.8 542.0 492.2 543.3 490.7C544.7 489.2 546.2 487.7 547.6 486.3C549.1 484.8 550.6 483.4 552.1 482.1C553.7 480.7 555.3 479.4 556.9 478.1C558.5 476.8 560.2 475.6 561.9 474.4C563.6 473.2 565.3 472.0 567.1 471.0C568.9 469.9 570.8 468.8 572.6 467.9C574.5 466.9 576.5 466.0 578.4 465.2C580.4 464.3 582.4 463.6 584.4 462.9C586.5 462.2 588.5 461.6 590.6 461.0C592.7 460.5 594.8 460.0 596.9 459.6C599.1 459.2 601.2 458.9 603.4 458.6C605.5 458.3 607.7 458.1 609.8 458.0C612.0 457.8 614.1 457.8 616.3 457.7C618.4 457.7 620.6 457.8 622.7 457.9C624.9 458.0 627.0 458.1 629.1 458.3C631.3 458.6 633.4 458.8 635.5 459.2C637.5 459.5 639.6 459.9 641.7 460.4C643.7 460.8 645.7 461.3 647.7 461.9C649.8 462.4 651.7 463.0 653.7 463.7C655.7 464.4 657.6 465.1 659.5 465.9C661.4 466.7 663.3 467.5 665.2 468.4C667.0 469.3 668.9 470.2 670.7 471.2C672.5 472.2 674.2 473.2 676.0 474.3C677.7 475.4 679.5 476.5 681.1 477.7C682.8 478.9 684.5 480.2 686.1 481.5C687.7 482.7 689.3 484.1 690.9 485.5C692.4 486.8 693.9 488.3 695.4 489.7C696.9 491.2 698.4 492.7 699.8 494.3C701.2 495.9 702.6 497.5 703.9 499.1C705.2 500.8 706.5 502.5 707.8 504.2C709.1 505.9 710.3 507.7 711.5 509.5C712.7 511.3 714.3 514.2 714.9 515.1L697.6 525.1C697.1 524.4 695.7 522.0 694.7 520.4C693.7 518.9 692.7 517.4 691.6 515.9C690.6 514.5 689.5 513.1 688.4 511.7C687.3 510.3 686.1 509.0 684.9 507.7C683.8 506.4 682.6 505.1 681.4 503.9C680.1 502.7 678.9 501.5 677.6 500.4C676.3 499.2 675.0 498.1 673.7 497.1C672.4 496.0 671.0 495.0 669.6 494.0C668.2 493.0 666.8 492.1 665.4 491.2C664.0 490.3 662.6 489.5 661.1 488.7C659.6 487.9 658.1 487.1 656.6 486.4C655.1 485.6 653.5 485.0 652.0 484.3C650.4 483.7 648.9 483.1 647.2 482.6C645.6 482.0 644.0 481.5 642.4 481.0C640.7 480.6 639.1 480.2 637.4 479.8C635.7 479.4 634.0 479.1 632.3 478.8C630.6 478.5 628.8 478.3 627.1 478.1C625.3 477.9 623.5 477.8 621.8 477.7C620.0 477.6 618.2 477.6 616.4 477.6C614.7 477.6 612.9 477.7 611.1 477.8C609.3 477.9 607.6 478.1 605.8 478.3C604.1 478.5 602.4 478.8 600.7 479.1C599.0 479.4 597.3 479.8 595.6 480.2C594.0 480.6 592.4 481.1 590.8 481.7C589.2 482.2 587.7 482.8 586.2 483.4C584.6 484.1 583.2 484.7 581.7 485.5C580.2 486.2 578.8 487.0 577.4 487.9C576.0 488.7 574.6 489.7 573.3 490.6C571.9 491.6 570.6 492.6 569.3 493.6C568.0 494.7 566.7 495.8 565.5 496.9C564.2 498.1 563.0 499.2 561.8 500.5C560.6 501.7 559.4 502.9 558.3 504.2C557.2 505.5 556.0 506.8 554.9 508.2C553.8 509.6 552.8 510.9 551.7 512.4C550.6 513.8 549.6 515.3 548.6 516.7C547.5 518.2 546.5 519.7 545.5 521.3C544.5 522.8 543.5 524.4 542.5 526.0C541.5 527.6 540.6 529.2 539.6 530.8C538.6 532.4 537.6 534.1 536.6 535.7C535.6 537.4 534.6 539.0 533.6 540.7C532.6 542.4 531.5 544.0 530.5 545.7C529.5 547.4 528.4 549.1 527.3 550.8C526.3 552.4 525.2 554.1 524.0 555.8C522.9 557.5 521.7 559.1 520.6 560.8C519.4 562.4 518.2 564.1 517.0 565.7C515.7 567.3 514.5 568.9 513.2 570.4C511.9 572.0 510.6 573.5 509.3 575.0C508.0 576.5 506.6 578.0 505.3 579.4C503.9 580.9 502.5 582.3 501.1 583.8C499.7 585.2 498.3 586.6 496.9 588.0C495.5 589.4 494.0 590.8 492.6 592.1C491.1 593.5 489.7 594.8 488.2 596.2C486.7 597.5 485.2 598.8 483.7 600.1C482.2 601.4 480.7 602.7 479.2 603.9C477.7 605.2 476.2 606.5 474.6 607.7C473.1 608.9 471.5 610.1 470.0 611.4C468.4 612.6 466.8 613.8 465.3 614.9C463.7 616.1 462.1 617.3 460.5 618.5C458.9 619.6 457.3 620.8 455.6 621.9C454.0 623.0 452.4 624.1 450.7 625.2C449.1 626.3 447.4 627.4 445.7 628.4C444.1 629.5 442.4 630.6 440.7 631.6C439.0 632.6 437.3 633.6 435.6 634.6C433.9 635.6 432.2 636.6 430.5 637.6C428.8 638.6 427.0 639.5 425.3 640.5C423.5 641.4 421.8 642.3 420.0 643.2C418.3 644.1 416.5 645.0 414.7 645.9C412.9 646.7 411.1 647.6 409.3 648.4C407.5 649.2 405.7 650.0 403.9 650.8C402.0 651.6 400.2 652.3 398.4 653.1C396.5 653.8 394.7 654.5 392.8 655.2C390.9 655.9 389.1 656.5 387.2 657.2C385.3 657.8 383.4 658.5 381.5 659.1C379.6 659.7 377.7 660.2 375.7 660.8C373.8 661.3 371.9 661.8 369.9 662.3C368.0 662.8 366.1 663.3 364.1 663.8C362.1 664.2 360.2 664.6 358.2 665.0C356.2 665.4 354.2 665.8 352.2 666.1C350.2 666.5 347.2 666.9 346.2 667.1Z" fill="#d9d9d9"/>
<g clip-path="url(#cWhite)">
<path d="M344.1 652.0C345.0 651.9 347.8 651.5 349.7 651.1C351.5 650.8 353.4 650.5 355.2 650.1C357.0 649.7 358.9 649.3 360.7 648.9C362.5 648.5 364.3 648.0 366.1 647.6C367.9 647.1 369.7 646.6 371.5 646.1C373.3 645.6 375.1 645.0 376.9 644.5C378.7 643.9 380.4 643.3 382.2 642.7C384.0 642.1 385.7 641.5 387.5 640.8C389.2 640.2 390.9 639.5 392.7 638.8C394.4 638.1 396.1 637.4 397.8 636.7C399.5 636.0 401.3 635.2 402.9 634.4C404.6 633.7 406.3 632.9 408.0 632.0C409.7 631.2 411.4 630.4 413.0 629.5C414.7 628.7 416.3 627.8 418.0 626.9C419.6 626.0 421.3 625.1 422.9 624.2C424.5 623.3 426.1 622.3 427.7 621.4C429.3 620.4 430.9 619.4 432.5 618.4C434.1 617.4 435.7 616.4 437.2 615.3C438.8 614.3 440.3 613.3 441.9 612.2C443.4 611.1 445.0 610.0 446.5 608.9C448.0 607.8 449.5 606.7 451.0 605.6C452.6 604.5 454.0 603.3 455.5 602.2C457.0 601.0 458.5 599.9 460.0 598.7C461.4 597.5 462.9 596.3 464.3 595.1C465.8 593.9 467.2 592.7 468.6 591.5C470.1 590.2 471.5 589.0 472.9 587.7C474.3 586.5 475.7 585.2 477.0 583.9C478.4 582.7 479.8 581.4 481.1 580.1C482.4 578.8 483.8 577.5 485.1 576.1C486.4 574.8 487.7 573.5 488.9 572.1C490.2 570.8 491.5 569.4 492.7 568.0C494.0 566.6 495.2 565.2 496.4 563.8C497.6 562.4 498.7 561.0 499.9 559.5C501.1 558.1 502.3 556.6 503.4 555.2C504.5 553.7 505.7 552.2 506.8 550.8C507.9 549.3 508.9 547.8 510.0 546.2C511.1 544.7 512.1 543.1 513.2 541.6C514.2 540.0 515.2 538.4 516.3 536.8C517.3 535.2 518.3 533.5 519.3 531.9C520.3 530.3 521.3 528.6 522.4 527.0C523.4 525.4 524.4 523.7 525.4 522.1C526.5 520.4 527.5 518.8 528.6 517.1C529.7 515.5 530.7 513.8 531.8 512.2C532.9 510.6 534.0 508.9 535.2 507.3C536.3 505.7 537.5 504.1 538.7 502.6C539.9 501.0 541.1 499.4 542.4 497.9C543.7 496.4 545.0 494.9 546.3 493.4C547.7 491.9 549.0 490.5 550.5 489.1C551.9 487.7 553.3 486.4 554.8 485.0C556.3 483.7 557.8 482.4 559.4 481.2C560.9 480.0 562.5 478.8 564.2 477.6C565.8 476.5 567.5 475.4 569.2 474.4C570.9 473.3 572.7 472.4 574.5 471.4C576.3 470.5 578.1 469.6 580.0 468.8C581.9 468.1 583.8 467.3 585.7 466.7C587.7 466.0 589.6 465.4 591.6 464.9C593.6 464.4 595.7 463.9 597.7 463.5C599.7 463.1 601.8 462.8 603.8 462.6C605.9 462.3 608.0 462.1 610.1 462.0C612.1 461.8 614.2 461.7 616.3 461.7C618.4 461.7 620.5 461.8 622.5 461.9C624.6 462.0 626.7 462.1 628.7 462.3C630.8 462.5 632.8 462.8 634.8 463.1C636.8 463.5 638.8 463.8 640.8 464.3C642.8 464.7 644.7 465.2 646.7 465.7C648.6 466.3 650.5 466.9 652.4 467.5C654.3 468.1 656.2 468.8 658.0 469.6C659.8 470.3 661.7 471.1 663.4 472.0C665.2 472.8 667.0 473.8 668.7 474.7C670.5 475.7 672.2 476.7 673.9 477.7C675.6 478.8 677.2 479.9 678.8 481.0C680.5 482.1 682.0 483.3 683.6 484.6C685.2 485.8 686.7 487.1 688.2 488.4C689.7 489.8 691.2 491.2 692.6 492.6C694.0 494.0 695.4 495.5 696.8 497.0C698.2 498.5 699.5 500.0 700.8 501.6C702.1 503.2 703.3 504.9 704.6 506.5C705.8 508.2 707.0 509.9 708.1 511.7C709.3 513.5 710.9 516.2 711.4 517.1L703.3 521.8C702.8 521.0 701.3 518.5 700.2 516.8C699.2 515.2 698.1 513.6 697.0 512.1C695.8 510.5 694.7 509.0 693.5 507.5C692.3 506.1 691.1 504.6 689.8 503.3C688.6 501.9 687.3 500.5 686.0 499.2C684.7 497.9 683.4 496.7 682.0 495.4C680.6 494.2 679.2 493.0 677.8 491.9C676.4 490.8 674.9 489.7 673.4 488.6C672.0 487.6 670.5 486.6 668.9 485.6C667.4 484.7 665.8 483.8 664.3 482.9C662.7 482.0 661.1 481.2 659.4 480.4C657.8 479.6 656.2 478.9 654.5 478.2C652.8 477.5 651.1 476.9 649.4 476.3C647.7 475.7 645.9 475.2 644.2 474.7C642.4 474.2 640.6 473.7 638.8 473.3C637.0 472.9 635.2 472.6 633.3 472.3C631.5 472.0 629.6 471.7 627.8 471.6C625.9 471.4 624.0 471.2 622.1 471.1C620.2 471.0 618.3 471.0 616.4 471.0C614.5 471.0 612.6 471.1 610.7 471.2C608.8 471.3 606.9 471.5 605.0 471.7C603.1 472.0 601.3 472.3 599.4 472.6C597.6 473.0 595.8 473.4 594.0 473.8C592.2 474.3 590.4 474.8 588.7 475.4C586.9 476.0 585.2 476.6 583.6 477.3C581.9 478.0 580.3 478.8 578.7 479.6C577.1 480.4 575.5 481.3 574.0 482.2C572.5 483.2 571.0 484.2 569.5 485.2C568.0 486.2 566.6 487.3 565.2 488.5C563.8 489.6 562.4 490.8 561.1 492.0C559.7 493.2 558.4 494.5 557.1 495.8C555.9 497.1 554.6 498.4 553.4 499.8C552.2 501.2 551.0 502.6 549.8 504.0C548.7 505.4 547.5 506.9 546.4 508.4C545.3 509.9 544.2 511.4 543.2 512.9C542.1 514.5 541.1 516.1 540.0 517.6C539.0 519.2 538.0 520.8 537.0 522.4C535.9 524.0 534.9 525.7 533.9 527.3C532.9 529.0 532.0 530.6 531.0 532.3C530.0 533.9 529.0 535.6 528.0 537.2C527.0 538.9 525.9 540.6 524.9 542.2C523.9 543.9 522.9 545.5 521.8 547.2C520.7 548.8 519.7 550.5 518.6 552.1C517.5 553.7 516.4 555.3 515.2 556.9C514.1 558.5 512.9 560.1 511.7 561.6C510.5 563.2 509.3 564.7 508.1 566.2C506.9 567.7 505.6 569.2 504.3 570.7C503.0 572.1 501.7 573.6 500.4 575.0C499.1 576.4 497.7 577.8 496.4 579.2C495.0 580.6 493.6 582.0 492.2 583.3C490.9 584.7 489.5 586.0 488.0 587.4C486.6 588.7 485.2 590.0 483.7 591.3C482.3 592.6 480.9 593.9 479.4 595.1C477.9 596.4 476.4 597.7 474.9 598.9C473.5 600.1 472.0 601.4 470.4 602.6C468.9 603.8 467.4 605.0 465.9 606.2C464.3 607.4 462.8 608.5 461.3 609.7C459.7 610.9 458.1 612.0 456.6 613.1C455.0 614.3 453.4 615.4 451.8 616.5C450.2 617.6 448.6 618.7 447.0 619.7C445.4 620.8 443.8 621.9 442.1 622.9C440.5 624.0 438.9 625.0 437.2 626.0C435.6 627.0 433.9 628.0 432.2 629.0C430.6 629.9 428.9 630.9 427.2 631.9C425.5 632.8 423.8 633.7 422.1 634.7C420.4 635.6 418.7 636.5 417.0 637.3C415.3 638.2 413.6 639.1 411.8 639.9C410.1 640.8 408.3 641.6 406.6 642.4C404.8 643.2 403.0 644.0 401.3 644.7C399.5 645.5 397.7 646.2 395.9 646.9C394.1 647.6 392.3 648.3 390.5 649.0C388.7 649.7 386.9 650.3 385.0 651.0C383.2 651.6 381.4 652.2 379.5 652.8C377.7 653.3 375.8 653.9 373.9 654.4C372.1 655.0 370.2 655.5 368.3 656.0C366.4 656.4 364.5 656.9 362.6 657.3C360.7 657.8 358.8 658.2 356.9 658.6C355.0 658.9 353.0 659.3 351.1 659.6C349.2 660.0 346.3 660.4 345.3 660.5Z" fill="#f7f7f7" filter="url(#b1)"/>
</g>
<path d="M343.5 648.1C344.4 647.9 347.2 647.5 349.0 647.2C350.8 646.9 352.6 646.5 354.4 646.2C356.2 645.8 358.0 645.4 359.8 645.0C361.6 644.6 363.4 644.2 365.1 643.7C366.9 643.2 368.7 642.8 370.4 642.3C372.2 641.8 374.0 641.2 375.7 640.7C377.4 640.1 379.2 639.5 380.9 638.9C382.6 638.4 384.4 637.7 386.1 637.1C387.8 636.5 389.5 635.8 391.2 635.1C392.9 634.4 394.6 633.7 396.3 633.0C397.9 632.3 399.6 631.5 401.3 630.8C403.0 630.0 404.6 629.2 406.3 628.4C407.9 627.6 409.6 626.8 411.2 626.0C412.8 625.1 414.5 624.3 416.1 623.4C417.7 622.5 419.3 621.6 420.9 620.7C422.5 619.8 424.1 618.9 425.7 617.9C427.3 617.0 428.8 616.0 430.4 615.0C432.0 614.0 433.5 613.0 435.0 612.0C436.6 611.0 438.1 609.9 439.6 608.9C441.2 607.8 442.7 606.8 444.2 605.7C445.7 604.6 447.2 603.5 448.7 602.4C450.2 601.3 451.6 600.1 453.1 599.0C454.6 597.9 456.0 596.7 457.5 595.5C458.9 594.4 460.4 593.2 461.8 592.0C463.2 590.8 464.7 589.6 466.1 588.4C467.5 587.2 468.9 586.0 470.2 584.7C471.6 583.5 473.0 582.3 474.3 581.0C475.7 579.7 477.0 578.5 478.3 577.2C479.7 575.9 481.0 574.6 482.2 573.3C483.5 572.0 484.8 570.7 486.1 569.3C487.3 568.0 488.5 566.7 489.8 565.3C491.0 563.9 492.2 562.6 493.3 561.2C494.5 559.8 495.7 558.4 496.8 557.0C498.0 555.6 499.1 554.2 500.2 552.7C501.4 551.3 502.5 549.9 503.5 548.4C504.6 546.9 505.7 545.5 506.7 544.0C507.8 542.5 508.8 540.9 509.8 539.4C510.8 537.8 511.8 536.2 512.9 534.7C513.9 533.1 514.9 531.4 515.9 529.8C516.9 528.2 517.9 526.6 519.0 524.9C520.0 523.3 521.0 521.6 522.0 520.0C523.1 518.3 524.1 516.6 525.2 515.0C526.3 513.3 527.4 511.6 528.5 510.0C529.6 508.3 530.7 506.7 531.9 505.0C533.1 503.4 534.3 501.8 535.5 500.2C536.7 498.5 538.0 496.9 539.3 495.4C540.6 493.8 542.0 492.2 543.3 490.7C544.7 489.2 546.2 487.7 547.6 486.3C549.1 484.8 550.6 483.4 552.1 482.1C553.7 480.7 555.3 479.4 556.9 478.1C558.5 476.8 560.2 475.6 561.9 474.4C563.6 473.2 565.3 472.0 567.1 471.0C568.9 469.9 570.8 468.8 572.6 467.9C574.5 466.9 576.5 466.0 578.4 465.2C580.4 464.3 582.4 463.6 584.4 462.9C586.5 462.2 588.5 461.6 590.6 461.0C592.7 460.5 594.8 460.0 596.9 459.6C599.1 459.2 601.2 458.9 603.4 458.6C605.5 458.3 607.7 458.1 609.8 458.0C612.0 457.8 614.1 457.8 616.3 457.7C618.4 457.7 620.6 457.8 622.7 457.9C624.9 458.0 627.0 458.1 629.1 458.3C631.3 458.6 633.4 458.8 635.5 459.2C637.5 459.5 639.6 459.9 641.7 460.4C643.7 460.8 645.7 461.3 647.7 461.9C649.8 462.4 651.7 463.0 653.7 463.7C655.7 464.4 657.6 465.1 659.5 465.9C661.4 466.7 663.3 467.5 665.2 468.4C667.0 469.3 668.9 470.2 670.7 471.2C672.5 472.2 674.2 473.2 676.0 474.3C677.7 475.4 679.5 476.5 681.1 477.7C682.8 478.9 684.5 480.2 686.1 481.5C687.7 482.7 689.3 484.1 690.9 485.5C692.4 486.8 693.9 488.3 695.4 489.7C696.9 491.2 698.4 492.7 699.8 494.3C701.2 495.9 702.6 497.5 703.9 499.1C705.2 500.8 706.5 502.5 707.8 504.2C709.1 505.9 710.3 507.7 711.5 509.5C712.7 511.3 714.3 514.2 714.9 515.1L697.6 525.1C697.1 524.4 695.7 522.0 694.7 520.4C693.7 518.9 692.7 517.4 691.6 515.9C690.6 514.5 689.5 513.1 688.4 511.7C687.3 510.3 686.1 509.0 684.9 507.7C683.8 506.4 682.6 505.1 681.4 503.9C680.1 502.7 678.9 501.5 677.6 500.4C676.3 499.2 675.0 498.1 673.7 497.1C672.4 496.0 671.0 495.0 669.6 494.0C668.2 493.0 666.8 492.1 665.4 491.2C664.0 490.3 662.6 489.5 661.1 488.7C659.6 487.9 658.1 487.1 656.6 486.4C655.1 485.6 653.5 485.0 652.0 484.3C650.4 483.7 648.9 483.1 647.2 482.6C645.6 482.0 644.0 481.5 642.4 481.0C640.7 480.6 639.1 480.2 637.4 479.8C635.7 479.4 634.0 479.1 632.3 478.8C630.6 478.5 628.8 478.3 627.1 478.1C625.3 477.9 623.5 477.8 621.8 477.7C620.0 477.6 618.2 477.6 616.4 477.6C614.7 477.6 612.9 477.7 611.1 477.8C609.3 477.9 607.6 478.1 605.8 478.3C604.1 478.5 602.4 478.8 600.7 479.1C599.0 479.4 597.3 479.8 595.6 480.2C594.0 480.6 592.4 481.1 590.8 481.7C589.2 482.2 587.7 482.8 586.2 483.4C584.6 484.1 583.2 484.7 581.7 485.5C580.2 486.2 578.8 487.0 577.4 487.9C576.0 488.7 574.6 489.7 573.3 490.6C571.9 491.6 570.6 492.6 569.3 493.6C568.0 494.7 566.7 495.8 565.5 496.9C564.2 498.1 563.0 499.2 561.8 500.5C560.6 501.7 559.4 502.9 558.3 504.2C557.2 505.5 556.0 506.8 554.9 508.2C553.8 509.6 552.8 510.9 551.7 512.4C550.6 513.8 549.6 515.3 548.6 516.7C547.5 518.2 546.5 519.7 545.5 521.3C544.5 522.8 543.5 524.4 542.5 526.0C541.5 527.6 540.6 529.2 539.6 530.8C538.6 532.4 537.6 534.1 536.6 535.7C535.6 537.4 534.6 539.0 533.6 540.7C532.6 542.4 531.5 544.0 530.5 545.7C529.5 547.4 528.4 549.1 527.3 550.8C526.3 552.4 525.2 554.1 524.0 555.8C522.9 557.5 521.7 559.1 520.6 560.8C519.4 562.4 518.2 564.1 517.0 565.7C515.7 567.3 514.5 568.9 513.2 570.4C511.9 572.0 510.6 573.5 509.3 575.0C508.0 576.5 506.6 578.0 505.3 579.4C503.9 580.9 502.5 582.3 501.1 583.8C499.7 585.2 498.3 586.6 496.9 588.0C495.5 589.4 494.0 590.8 492.6 592.1C491.1 593.5 489.7 594.8 488.2 596.2C486.7 597.5 485.2 598.8 483.7 600.1C482.2 601.4 480.7 602.7 479.2 603.9C477.7 605.2 476.2 606.5 474.6 607.7C473.1 608.9 471.5 610.1 470.0 611.4C468.4 612.6 466.8 613.8 465.3 614.9C463.7 616.1 462.1 617.3 460.5 618.5C458.9 619.6 457.3 620.8 455.6 621.9C454.0 623.0 452.4 624.1 450.7 625.2C449.1 626.3 447.4 627.4 445.7 628.4C444.1 629.5 442.4 630.6 440.7 631.6C439.0 632.6 437.3 633.6 435.6 634.6C433.9 635.6 432.2 636.6 430.5 637.6C428.8 638.6 427.0 639.5 425.3 640.5C423.5 641.4 421.8 642.3 420.0 643.2C418.3 644.1 416.5 645.0 414.7 645.9C412.9 646.7 411.1 647.6 409.3 648.4C407.5 649.2 405.7 650.0 403.9 650.8C402.0 651.6 400.2 652.3 398.4 653.1C396.5 653.8 394.7 654.5 392.8 655.2C390.9 655.9 389.1 656.5 387.2 657.2C385.3 657.8 383.4 658.5 381.5 659.1C379.6 659.7 377.7 660.2 375.7 660.8C373.8 661.3 371.9 661.8 369.9 662.3C368.0 662.8 366.1 663.3 364.1 663.8C362.1 664.2 360.2 664.6 358.2 665.0C356.2 665.4 354.2 665.8 352.2 666.1C350.2 666.5 347.2 666.9 346.2 667.1Z" fill="none" stroke="#000" stroke-width="3.4" stroke-linejoin="miter"/>
<path d="M-46.1 800.3C-44.4 800.3 -39.4 800.2 -36.1 800.1C-32.7 800.0 -29.4 799.9 -26.2 799.6C-22.9 799.4 -19.6 799.2 -16.4 798.8C-13.1 798.5 -9.9 798.2 -6.7 797.7C-3.5 797.3 -0.3 796.9 2.9 796.4C6.1 795.8 9.2 795.3 12.4 794.7C15.5 794.1 18.6 793.4 21.7 792.7C24.8 792.0 27.9 791.3 31.0 790.5C34.1 789.8 37.1 788.9 40.2 788.1C43.2 787.2 46.2 786.3 49.2 785.4C52.3 784.4 55.3 783.4 58.2 782.4C61.2 781.4 64.2 780.3 67.1 779.2C70.1 778.2 73.0 777.0 75.9 775.9C78.9 774.7 81.8 773.5 84.7 772.3C87.5 771.0 90.4 769.7 93.3 768.4C96.2 767.1 99.0 765.8 101.8 764.5C104.7 763.1 107.5 761.7 110.3 760.3C113.1 758.8 115.9 757.4 118.7 755.9C121.5 754.4 124.3 752.9 127.0 751.4C129.8 749.9 132.5 748.3 135.3 746.7C138.0 745.1 140.7 743.5 143.4 741.9C146.2 740.2 148.9 738.6 151.6 736.9C154.2 735.2 156.9 733.5 159.6 731.8C162.3 730.1 164.9 728.3 167.6 726.6C170.2 724.8 172.8 723.0 175.5 721.2C178.1 719.4 180.7 717.6 183.3 715.8C185.9 714.0 188.5 712.1 191.1 710.3C193.7 708.4 196.3 706.5 198.8 704.6C201.4 702.8 204.0 700.8 206.5 698.9C209.1 697.0 211.6 695.1 214.1 693.2C216.7 691.2 219.2 689.3 221.7 687.4C224.3 685.4 226.8 683.5 229.3 681.5C231.8 679.6 234.4 677.6 236.9 675.7C239.4 673.7 241.9 671.8 244.4 669.8C247.0 667.9 249.5 665.9 252.0 664.0C254.5 662.0 257.0 660.1 259.6 658.2C262.1 656.3 264.6 654.3 267.2 652.4C269.7 650.5 272.3 648.6 274.8 646.8C277.4 644.9 279.9 643.0 282.5 641.2C285.1 639.3 287.7 637.5 290.3 635.7C292.9 633.9 295.5 632.1 298.1 630.3C300.7 628.5 303.3 626.8 306.0 625.0C308.6 623.3 311.3 621.6 314.0 620.0C316.6 618.3 319.3 616.6 322.0 615.0C324.8 613.4 327.5 611.8 330.2 610.3C333.0 608.7 335.8 607.2 338.5 605.7C341.3 604.2 345.6 602.1 347.0 601.4L371.6 669.1C370.2 669.9 365.7 672.2 362.8 673.8C359.8 675.4 356.9 677.0 354.0 678.7C351.1 680.4 348.2 682.1 345.4 683.8C342.5 685.5 339.7 687.3 336.8 689.0C334.0 690.8 331.2 692.6 328.4 694.5C325.6 696.3 322.8 698.2 320.0 700.0C317.2 701.9 314.4 703.8 311.7 705.7C308.9 707.6 306.2 709.6 303.4 711.5C300.7 713.5 298.0 715.5 295.2 717.4C292.5 719.4 289.8 721.4 287.1 723.4C284.3 725.4 281.6 727.4 278.9 729.5C276.2 731.5 273.5 733.5 270.8 735.5C268.1 737.6 265.4 739.6 262.7 741.6C260.0 743.7 257.3 745.7 254.6 747.8C251.9 749.8 249.2 751.8 246.5 753.9C243.8 755.9 241.1 757.9 238.4 760.0C235.7 762.0 233.0 764.0 230.3 766.0C227.5 768.0 224.8 770.0 222.1 772.0C219.4 773.9 216.6 775.9 213.9 777.9C211.1 779.8 208.4 781.8 205.6 783.7C202.8 785.6 200.1 787.5 197.3 789.4C194.5 791.3 191.7 793.1 188.9 794.9C186.0 796.8 183.2 798.6 180.4 800.4C177.5 802.1 174.7 803.9 171.8 805.6C168.9 807.4 166.0 809.1 163.1 810.7C160.2 812.4 157.3 814.1 154.4 815.7C151.4 817.3 148.5 818.9 145.5 820.5C142.6 822.0 139.6 823.6 136.6 825.1C133.6 826.6 130.6 828.1 127.6 829.5C124.6 831.0 121.6 832.4 118.5 833.8C115.5 835.2 112.4 836.6 109.4 837.9C106.3 839.3 103.2 840.6 100.1 841.9C97.0 843.2 93.9 844.4 90.8 845.7C87.7 846.9 84.6 848.1 81.4 849.3C78.3 850.4 75.1 851.6 71.9 852.7C68.8 853.8 65.6 854.9 62.4 856.0C59.2 857.0 56.0 858.1 52.8 859.1C49.6 860.1 46.4 861.1 43.1 862.1C39.9 863.0 36.7 864.0 33.4 864.9C30.2 865.8 26.9 866.7 23.7 867.6C20.4 868.5 17.1 869.4 13.9 870.2C10.6 871.1 7.3 871.9 4.0 872.7C0.7 873.6 -2.5 874.4 -5.8 875.2C-9.1 876.0 -12.4 876.7 -15.7 877.5C-19.0 878.3 -22.3 879.0 -25.6 879.8C-28.9 880.5 -32.2 881.3 -35.5 882.0C-38.8 882.7 -43.7 883.8 -45.3 884.1Z" fill="#e1e1e1"/>
<g clip-path="url(#cSheath)">
<path d="M-46.0 809.9C-44.3 809.9 -39.3 809.7 -36.0 809.5C-32.7 809.4 -29.4 809.1 -26.1 808.9C-22.8 808.6 -19.5 808.3 -16.3 807.9C-13.0 807.5 -9.8 807.1 -6.6 806.6C-3.4 806.2 -0.2 805.7 3.0 805.1C6.2 804.6 9.4 804.0 12.5 803.4C15.7 802.7 18.8 802.1 21.9 801.4C25.1 800.6 28.2 799.9 31.3 799.1C34.4 798.3 37.4 797.5 40.5 796.6C43.6 795.7 46.6 794.8 49.7 793.8C52.7 792.9 55.7 791.9 58.7 790.9C61.7 789.9 64.7 788.8 67.7 787.7C70.7 786.6 73.6 785.5 76.6 784.3C79.5 783.1 82.4 781.9 85.4 780.7C88.3 779.5 91.2 778.2 94.1 776.9C97.0 775.6 99.8 774.3 102.7 772.9C105.6 771.5 108.4 770.1 111.3 768.7C114.1 767.3 116.9 765.9 119.7 764.4C122.5 762.9 125.3 761.4 128.1 759.9C130.9 758.3 133.7 756.8 136.5 755.2C139.2 753.6 142.0 752.0 144.7 750.4C147.4 748.7 150.2 747.1 152.9 745.4C155.6 743.7 158.3 742.0 161.0 740.3C163.7 738.6 166.4 736.8 169.0 735.1C171.7 733.3 174.4 731.5 177.0 729.7C179.7 727.9 182.3 726.1 184.9 724.3C187.5 722.4 190.2 720.6 192.8 718.7C195.4 716.8 198.0 715.0 200.6 713.1C203.2 711.2 205.7 709.3 208.3 707.3C210.9 705.4 213.4 703.5 216.0 701.5C218.6 699.6 221.1 697.7 223.7 695.7C226.2 693.8 228.8 691.8 231.3 689.8C233.8 687.9 236.4 685.9 238.9 684.0C241.5 682.0 244.0 680.0 246.5 678.1C249.1 676.1 251.6 674.2 254.2 672.2C256.7 670.3 259.3 668.3 261.8 666.4C264.4 664.4 266.9 662.5 269.5 660.6C272.0 658.7 274.6 656.8 277.2 654.9C279.7 653.0 282.3 651.1 284.9 649.3C287.5 647.4 290.1 645.6 292.7 643.7C295.3 641.9 298.0 640.1 300.6 638.3C303.2 636.5 305.9 634.8 308.6 633.0C311.2 631.3 313.9 629.6 316.6 627.9C319.3 626.2 322.0 624.6 324.7 622.9C327.5 621.3 330.2 619.7 333.0 618.1C335.7 616.6 338.5 615.0 341.3 613.5C344.1 612.1 348.4 609.9 349.8 609.2L368.9 661.7C367.5 662.5 363.0 664.7 360.1 666.3C357.2 667.9 354.3 669.5 351.4 671.2C348.5 672.8 345.7 674.5 342.8 676.2C340.0 677.9 337.1 679.7 334.3 681.4C331.5 683.2 328.7 685.0 325.9 686.8C323.1 688.6 320.3 690.5 317.6 692.4C314.8 694.2 312.1 696.1 309.3 698.0C306.6 699.9 303.9 701.9 301.1 703.8C298.4 705.7 295.7 707.7 293.0 709.7C290.3 711.6 287.6 713.6 284.9 715.6C282.2 717.6 279.5 719.6 276.8 721.6C274.1 723.6 271.4 725.6 268.7 727.7C266.1 729.7 263.4 731.7 260.7 733.7C258.0 735.8 255.4 737.8 252.7 739.8C250.0 741.9 247.3 743.9 244.6 745.9C241.9 747.9 239.3 750.0 236.6 752.0C233.9 754.0 231.2 756.0 228.5 758.0C225.8 760.0 223.1 762.0 220.4 763.9C217.7 765.9 214.9 767.9 212.2 769.8C209.5 771.8 206.8 773.7 204.0 775.6C201.3 777.5 198.5 779.4 195.7 781.3C193.0 783.2 190.2 785.0 187.4 786.8C184.6 788.7 181.8 790.5 179.0 792.3C176.1 794.0 173.3 795.8 170.5 797.5C167.6 799.2 164.7 800.9 161.9 802.6C159.0 804.3 156.1 805.9 153.2 807.6C150.3 809.2 147.3 810.8 144.4 812.3C141.5 813.9 138.5 815.5 135.6 817.0C132.6 818.5 129.6 820.0 126.6 821.4C123.7 822.9 120.7 824.3 117.6 825.7C114.6 827.1 111.6 828.5 108.5 829.8C105.5 831.2 102.5 832.5 99.4 833.8C96.3 835.1 93.2 836.3 90.1 837.6C87.0 838.8 83.9 840.0 80.8 841.2C77.7 842.4 74.6 843.5 71.4 844.6C68.3 845.7 65.1 846.8 61.9 847.9C58.8 848.9 55.6 850.0 52.4 851.0C49.2 852.0 46.0 853.0 42.8 853.9C39.6 854.9 36.4 855.8 33.1 856.7C29.9 857.6 26.7 858.5 23.4 859.4C20.2 860.3 16.9 861.1 13.7 861.9C10.4 862.8 7.2 863.6 3.9 864.3C0.6 865.1 -2.6 865.9 -5.9 866.6C-9.2 867.4 -12.5 868.1 -15.8 868.8C-19.1 869.6 -22.4 870.3 -25.6 871.0C-28.9 871.6 -32.2 872.3 -35.5 873.0C-38.8 873.6 -43.8 874.6 -45.4 874.9Z" fill="#ffffff" filter="url(#b1)"/>
<path d="M-45.9 823.4C-44.2 823.2 -39.2 822.9 -35.9 822.6C-32.6 822.4 -29.3 822.0 -26.0 821.7C-22.7 821.3 -19.4 820.9 -16.2 820.5C-12.9 820.0 -9.7 819.5 -6.5 819.0C-3.2 818.5 -0.0 818.0 3.2 817.4C6.4 816.8 9.6 816.1 12.8 815.5C15.9 814.8 19.1 814.1 22.3 813.3C25.4 812.6 28.5 811.8 31.7 811.0C34.8 810.2 37.9 809.3 41.0 808.4C44.1 807.5 47.2 806.6 50.2 805.6C53.3 804.7 56.3 803.7 59.4 802.6C62.4 801.6 65.4 800.5 68.5 799.4C71.5 798.3 74.5 797.2 77.4 796.0C80.4 794.9 83.4 793.7 86.3 792.4C89.3 791.2 92.2 789.9 95.2 788.6C98.1 787.3 101.0 786.0 103.9 784.7C106.8 783.3 109.7 781.9 112.6 780.5C115.5 779.1 118.3 777.6 121.2 776.2C124.0 774.7 126.8 773.2 129.7 771.6C132.5 770.1 135.3 768.6 138.1 767.0C140.9 765.4 143.7 763.8 146.5 762.2C149.2 760.5 152.0 758.9 154.7 757.2C157.5 755.5 160.2 753.8 162.9 752.1C165.7 750.4 168.4 748.6 171.1 746.9C173.8 745.1 176.5 743.3 179.2 741.5C181.8 739.7 184.5 737.9 187.2 736.0C189.8 734.2 192.5 732.3 195.1 730.5C197.7 728.6 200.4 726.7 203.0 724.8C205.6 722.9 208.2 721.0 210.8 719.0C213.4 717.1 216.0 715.1 218.6 713.2C221.2 711.2 223.8 709.3 226.3 707.3C228.9 705.4 231.5 703.4 234.1 701.4C236.6 699.4 239.2 697.5 241.8 695.5C244.3 693.5 246.9 691.5 249.5 689.6C252.0 687.6 254.6 685.6 257.2 683.7C259.7 681.7 262.3 679.7 264.9 677.8C267.5 675.8 270.1 673.9 272.7 672.0C275.2 670.0 277.8 668.1 280.4 666.2C283.0 664.3 285.6 662.4 288.3 660.5C290.9 658.6 293.5 656.8 296.2 654.9C298.8 653.1 301.4 651.3 304.1 649.5C306.8 647.7 309.4 645.9 312.1 644.1C314.8 642.4 317.5 640.7 320.3 638.9C323.0 637.2 325.7 635.6 328.5 633.9C331.2 632.3 334.0 630.7 336.8 629.1C339.6 627.5 342.4 626.0 345.2 624.4C348.0 622.9 352.3 620.8 353.8 620.0L364.6 649.8C363.2 650.6 358.8 652.8 355.9 654.4C353.0 656.0 350.1 657.6 347.2 659.2C344.4 660.8 341.6 662.5 338.7 664.2C335.9 665.9 333.1 667.6 330.3 669.3C327.5 671.1 324.8 672.9 322.0 674.7C319.2 676.5 316.5 678.3 313.7 680.2C311.0 682.0 308.3 683.9 305.6 685.8C302.9 687.7 300.2 689.6 297.5 691.5C294.8 693.4 292.1 695.3 289.4 697.3C286.7 699.2 284.1 701.2 281.4 703.2C278.7 705.2 276.1 707.2 273.4 709.1C270.8 711.1 268.1 713.1 265.5 715.1C262.8 717.2 260.2 719.2 257.5 721.2C254.9 723.2 252.2 725.2 249.6 727.2C246.9 729.2 244.3 731.2 241.6 733.2C239.0 735.3 236.3 737.3 233.7 739.3C231.0 741.3 228.3 743.3 225.7 745.2C223.0 747.2 220.3 749.2 217.7 751.2C215.0 753.1 212.3 755.1 209.6 757.0C206.9 758.9 204.2 760.9 201.5 762.8C198.8 764.7 196.0 766.5 193.3 768.4C190.6 770.3 187.8 772.1 185.0 773.9C182.3 775.8 179.5 777.6 176.7 779.3C173.9 781.1 171.1 782.9 168.3 784.6C165.5 786.3 162.7 788.0 159.8 789.7C157.0 791.4 154.1 793.0 151.3 794.6C148.4 796.3 145.5 797.9 142.6 799.4C139.7 801.0 136.8 802.6 133.9 804.1C131.0 805.6 128.0 807.1 125.1 808.5C122.1 810.0 119.2 811.4 116.2 812.8C113.2 814.3 110.2 815.6 107.2 817.0C104.2 818.3 101.2 819.7 98.2 820.9C95.2 822.2 92.1 823.5 89.1 824.7C86.0 826.0 82.9 827.2 79.9 828.3C76.8 829.5 73.7 830.7 70.6 831.8C67.5 832.9 64.3 834.0 61.2 835.0C58.1 836.1 54.9 837.1 51.8 838.1C48.6 839.1 45.5 840.0 42.3 841.0C39.1 841.9 35.9 842.8 32.7 843.7C29.5 844.6 26.3 845.5 23.1 846.3C19.9 847.1 16.7 847.9 13.4 848.7C10.2 849.5 6.9 850.2 3.7 851.0C0.4 851.7 -2.8 852.4 -6.1 853.1C-9.3 853.8 -12.6 854.4 -15.9 855.1C-19.2 855.7 -22.5 856.3 -25.7 856.9C-29.0 857.5 -32.3 858.1 -35.6 858.7C-38.9 859.2 -43.9 860.0 -45.6 860.3Z" fill="#d2d2d2" filter="url(#b2)"/>
<path d="M-45.8 832.2C-44.1 832.0 -39.1 831.6 -35.8 831.2C-32.5 830.9 -29.2 830.5 -25.9 830.1C-22.7 829.7 -19.4 829.2 -16.1 828.7C-12.9 828.2 -9.6 827.7 -6.4 827.2C-3.1 826.6 0.1 826.0 3.3 825.4C6.5 824.8 9.7 824.1 12.9 823.4C16.1 822.7 19.3 822.0 22.5 821.2C25.6 820.4 28.8 819.6 31.9 818.8C35.1 818.0 38.2 817.1 41.3 816.2C44.4 815.3 47.5 814.4 50.6 813.4C53.7 812.4 56.8 811.4 59.8 810.4C62.9 809.3 65.9 808.3 69.0 807.2C72.0 806.1 75.0 804.9 78.0 803.8C81.0 802.6 84.0 801.4 87.0 800.1C90.0 798.9 92.9 797.6 95.9 796.3C98.8 795.1 101.8 793.7 104.7 792.4C107.6 791.0 110.5 789.6 113.4 788.2C116.3 786.8 119.2 785.4 122.1 783.9C125.0 782.4 127.8 780.9 130.7 779.4C133.5 777.9 136.4 776.3 139.2 774.7C142.0 773.2 144.8 771.5 147.6 769.9C150.4 768.3 153.2 766.6 156.0 765.0C158.7 763.3 161.5 761.6 164.2 759.9C167.0 758.1 169.7 756.4 172.4 754.6C175.1 752.9 177.9 751.1 180.6 749.2C183.3 747.4 185.9 745.6 188.6 743.8C191.3 741.9 194.0 740.0 196.6 738.2C199.3 736.3 201.9 734.4 204.6 732.5C207.2 730.6 209.8 728.6 212.4 726.7C215.1 724.8 217.7 722.8 220.3 720.8C222.9 718.9 225.5 716.9 228.1 714.9C230.7 713.0 233.3 711.0 235.9 709.0C238.5 707.0 241.0 705.0 243.6 703.1C246.2 701.1 248.8 699.1 251.4 697.1C254.0 695.1 256.6 693.1 259.2 691.2C261.7 689.2 264.3 687.2 266.9 685.3C269.5 683.3 272.1 681.4 274.7 679.4C277.3 677.5 280.0 675.5 282.6 673.6C285.2 671.7 287.8 669.8 290.5 667.9C293.1 666.0 295.7 664.1 298.4 662.3C301.1 660.4 303.7 658.6 306.4 656.8C309.1 655.0 311.8 653.2 314.5 651.4C317.2 649.7 319.9 647.9 322.7 646.2C325.4 644.5 328.1 642.8 330.9 641.1C333.7 639.5 336.5 637.9 339.3 636.3C342.1 634.7 344.9 633.1 347.8 631.6C350.6 630.1 354.9 627.9 356.4 627.1L362.0 642.7C360.6 643.5 356.2 645.7 353.3 647.3C350.4 648.8 347.6 650.4 344.7 652.0C341.9 653.6 339.1 655.3 336.3 657.0C333.5 658.6 330.7 660.4 327.9 662.1C325.1 663.8 322.4 665.6 319.6 667.4C316.9 669.2 314.2 671.0 311.4 672.8C308.7 674.7 306.0 676.5 303.3 678.4C300.6 680.3 297.9 682.2 295.3 684.1C292.6 686.0 289.9 687.9 287.3 689.9C284.6 691.8 282.0 693.8 279.3 695.7C276.7 697.7 274.0 699.7 271.4 701.7C268.7 703.6 266.1 705.6 263.5 707.6C260.8 709.6 258.2 711.6 255.6 713.6C253.0 715.6 250.3 717.6 247.7 719.6C245.1 721.6 242.4 723.7 239.8 725.7C237.2 727.7 234.5 729.7 231.9 731.6C229.3 733.6 226.6 735.6 224.0 737.6C221.3 739.6 218.7 741.5 216.0 743.5C213.4 745.4 210.7 747.4 208.0 749.3C205.3 751.2 202.6 753.2 199.9 755.0C197.2 756.9 194.5 758.8 191.8 760.7C189.1 762.5 186.4 764.4 183.6 766.2C180.9 768.0 178.1 769.8 175.4 771.6C172.6 773.4 169.8 775.1 167.0 776.8C164.2 778.6 161.4 780.3 158.6 781.9C155.8 783.6 153.0 785.3 150.1 786.9C147.3 788.5 144.4 790.1 141.5 791.7C138.7 793.3 135.8 794.8 132.9 796.3C130.0 797.9 127.1 799.3 124.1 800.8C121.2 802.3 118.3 803.7 115.3 805.1C112.4 806.5 109.4 807.9 106.4 809.3C103.5 810.6 100.5 811.9 97.5 813.2C94.5 814.5 91.4 815.8 88.4 817.0C85.4 818.3 82.3 819.5 79.3 820.6C76.2 821.8 73.2 822.9 70.1 824.1C67.0 825.2 63.9 826.2 60.8 827.3C57.7 828.3 54.5 829.4 51.4 830.3C48.3 831.3 45.1 832.3 42.0 833.2C38.8 834.1 35.6 835.0 32.5 835.9C29.3 836.8 26.1 837.6 22.9 838.4C19.7 839.2 16.5 840.0 13.3 840.8C10.0 841.5 6.8 842.3 3.6 843.0C0.3 843.7 -2.9 844.3 -6.2 845.0C-9.4 845.6 -12.7 846.2 -16.0 846.8C-19.2 847.4 -22.5 848.0 -25.8 848.5C-29.1 849.1 -32.4 849.6 -35.7 850.1C-39.0 850.5 -44.0 851.2 -45.6 851.4Z" fill="#bcbcbc" filter="url(#b2)"/>
<path d="M-45.7 842.2C-44.1 842.0 -39.1 841.5 -35.8 841.1C-32.5 840.6 -29.2 840.2 -25.9 839.7C-22.6 839.2 -19.3 838.7 -16.0 838.2C-12.8 837.6 -9.5 837.1 -6.3 836.4C-3.0 835.8 0.2 835.2 3.5 834.5C6.7 833.9 9.9 833.2 13.1 832.5C16.3 831.7 19.5 831.0 22.7 830.2C25.9 829.4 29.0 828.6 32.2 827.7C35.4 826.9 38.5 826.0 41.6 825.1C44.8 824.2 47.9 823.2 51.0 822.2C54.1 821.3 57.2 820.2 60.3 819.2C63.4 818.2 66.5 817.1 69.5 816.0C72.6 814.9 75.6 813.7 78.7 812.6C81.7 811.4 84.7 810.2 87.7 809.0C90.7 807.7 93.7 806.5 96.7 805.2C99.7 803.9 102.7 802.5 105.6 801.2C108.6 799.8 111.5 798.4 114.4 797.0C117.4 795.6 120.3 794.2 123.2 792.7C126.1 791.2 129.0 789.8 131.8 788.2C134.7 786.7 137.6 785.2 140.4 783.6C143.3 782.0 146.1 780.4 148.9 778.8C151.7 777.1 154.5 775.5 157.3 773.8C160.1 772.1 162.9 770.4 165.7 768.7C168.5 767.0 171.2 765.2 174.0 763.5C176.7 761.7 179.4 759.9 182.2 758.1C184.9 756.3 187.6 754.4 190.3 752.6C193.0 750.7 195.7 748.9 198.4 747.0C201.0 745.1 203.7 743.2 206.4 741.3C209.0 739.3 211.7 737.4 214.3 735.5C216.9 733.5 219.6 731.5 222.2 729.6C224.8 727.6 227.5 725.6 230.1 723.7C232.7 721.7 235.3 719.7 237.9 717.7C240.5 715.7 243.1 713.7 245.8 711.7C248.4 709.7 251.0 707.7 253.6 705.7C256.2 703.7 258.8 701.7 261.4 699.8C264.0 697.8 266.6 695.8 269.3 693.8C271.9 691.8 274.5 689.9 277.1 687.9C279.8 686.0 282.4 684.0 285.0 682.1C287.7 680.2 290.3 678.3 293.0 676.4C295.6 674.5 298.3 672.6 301.0 670.7C303.7 668.8 306.3 667.0 309.0 665.2C311.7 663.3 314.4 661.5 317.2 659.8C319.9 658.0 322.6 656.2 325.4 654.5C328.2 652.8 330.9 651.1 333.7 649.4C336.5 647.7 339.3 646.1 342.1 644.5C345.0 642.9 347.8 641.3 350.7 639.8C353.5 638.2 357.9 636.0 359.3 635.3" fill="none" stroke="#8e8e8e" stroke-width="4.4" stroke-dasharray="200 14 60 20 46 26 36 600" filter="url(#b1)"/>
</g>
<path d="M-46.1 800.3C-44.4 800.3 -39.4 800.2 -36.1 800.1C-32.7 800.0 -29.4 799.9 -26.2 799.6C-22.9 799.4 -19.6 799.2 -16.4 798.8C-13.1 798.5 -9.9 798.2 -6.7 797.7C-3.5 797.3 -0.3 796.9 2.9 796.4C6.1 795.8 9.2 795.3 12.4 794.7C15.5 794.1 18.6 793.4 21.7 792.7C24.8 792.0 27.9 791.3 31.0 790.5C34.1 789.8 37.1 788.9 40.2 788.1C43.2 787.2 46.2 786.3 49.2 785.4C52.3 784.4 55.3 783.4 58.2 782.4C61.2 781.4 64.2 780.3 67.1 779.2C70.1 778.2 73.0 777.0 75.9 775.9C78.9 774.7 81.8 773.5 84.7 772.3C87.5 771.0 90.4 769.7 93.3 768.4C96.2 767.1 99.0 765.8 101.8 764.5C104.7 763.1 107.5 761.7 110.3 760.3C113.1 758.8 115.9 757.4 118.7 755.9C121.5 754.4 124.3 752.9 127.0 751.4C129.8 749.9 132.5 748.3 135.3 746.7C138.0 745.1 140.7 743.5 143.4 741.9C146.2 740.2 148.9 738.6 151.6 736.9C154.2 735.2 156.9 733.5 159.6 731.8C162.3 730.1 164.9 728.3 167.6 726.6C170.2 724.8 172.8 723.0 175.5 721.2C178.1 719.4 180.7 717.6 183.3 715.8C185.9 714.0 188.5 712.1 191.1 710.3C193.7 708.4 196.3 706.5 198.8 704.6C201.4 702.8 204.0 700.8 206.5 698.9C209.1 697.0 211.6 695.1 214.1 693.2C216.7 691.2 219.2 689.3 221.7 687.4C224.3 685.4 226.8 683.5 229.3 681.5C231.8 679.6 234.4 677.6 236.9 675.7C239.4 673.7 241.9 671.8 244.4 669.8C247.0 667.9 249.5 665.9 252.0 664.0C254.5 662.0 257.0 660.1 259.6 658.2C262.1 656.3 264.6 654.3 267.2 652.4C269.7 650.5 272.3 648.6 274.8 646.8C277.4 644.9 279.9 643.0 282.5 641.2C285.1 639.3 287.7 637.5 290.3 635.7C292.9 633.9 295.5 632.1 298.1 630.3C300.7 628.5 303.3 626.8 306.0 625.0C308.6 623.3 311.3 621.6 314.0 620.0C316.6 618.3 319.3 616.6 322.0 615.0C324.8 613.4 327.5 611.8 330.2 610.3C333.0 608.7 335.8 607.2 338.5 605.7C341.3 604.2 345.6 602.1 347.0 601.4L371.6 669.1C370.2 669.9 365.7 672.2 362.8 673.8C359.8 675.4 356.9 677.0 354.0 678.7C351.1 680.4 348.2 682.1 345.4 683.8C342.5 685.5 339.7 687.3 336.8 689.0C334.0 690.8 331.2 692.6 328.4 694.5C325.6 696.3 322.8 698.2 320.0 700.0C317.2 701.9 314.4 703.8 311.7 705.7C308.9 707.6 306.2 709.6 303.4 711.5C300.7 713.5 298.0 715.5 295.2 717.4C292.5 719.4 289.8 721.4 287.1 723.4C284.3 725.4 281.6 727.4 278.9 729.5C276.2 731.5 273.5 733.5 270.8 735.5C268.1 737.6 265.4 739.6 262.7 741.6C260.0 743.7 257.3 745.7 254.6 747.8C251.9 749.8 249.2 751.8 246.5 753.9C243.8 755.9 241.1 757.9 238.4 760.0C235.7 762.0 233.0 764.0 230.3 766.0C227.5 768.0 224.8 770.0 222.1 772.0C219.4 773.9 216.6 775.9 213.9 777.9C211.1 779.8 208.4 781.8 205.6 783.7C202.8 785.6 200.1 787.5 197.3 789.4C194.5 791.3 191.7 793.1 188.9 794.9C186.0 796.8 183.2 798.6 180.4 800.4C177.5 802.1 174.7 803.9 171.8 805.6C168.9 807.4 166.0 809.1 163.1 810.7C160.2 812.4 157.3 814.1 154.4 815.7C151.4 817.3 148.5 818.9 145.5 820.5C142.6 822.0 139.6 823.6 136.6 825.1C133.6 826.6 130.6 828.1 127.6 829.5C124.6 831.0 121.6 832.4 118.5 833.8C115.5 835.2 112.4 836.6 109.4 837.9C106.3 839.3 103.2 840.6 100.1 841.9C97.0 843.2 93.9 844.4 90.8 845.7C87.7 846.9 84.6 848.1 81.4 849.3C78.3 850.4 75.1 851.6 71.9 852.7C68.8 853.8 65.6 854.9 62.4 856.0C59.2 857.0 56.0 858.1 52.8 859.1C49.6 860.1 46.4 861.1 43.1 862.1C39.9 863.0 36.7 864.0 33.4 864.9C30.2 865.8 26.9 866.7 23.7 867.6C20.4 868.5 17.1 869.4 13.9 870.2C10.6 871.1 7.3 871.9 4.0 872.7C0.7 873.6 -2.5 874.4 -5.8 875.2C-9.1 876.0 -12.4 876.7 -15.7 877.5C-19.0 878.3 -22.3 879.0 -25.6 879.8C-28.9 880.5 -32.2 881.3 -35.5 882.0C-38.8 882.7 -43.7 883.8 -45.3 884.1Z" fill="none" stroke="#000" stroke-width="3.5" stroke-linejoin="miter"/>
<g font-family="'Liberation Sans', sans-serif" font-size="37.3" fill="#000" text-anchor="middle" opacity="0.999">
<text x="497.5" y="264.7">black</text>
<text x="497.5" y="301.7">(hot)</text>
<text x="497.5" y="338.7">wire</text>
<text x="688.5" y="400.8">silver</text>
<text x="689" y="437.5">screws</text>
<text x="1126" y="589">brass</text>
<text x="1126" y="625.4">screws</text>
<text x="531" y="670">ground</text>
<text x="531" y="706">wire</text>
<text x="389.8" y="773">white</text>
<text x="389" y="809.7">(neutral)</text>
<text x="389.6" y="846.3">wire</text>
<text x="629" y="836.4">green</text>
<text x="629" y="873">screw</text>
</g>
<g fill="#000">
<polyline fill="none" stroke="#000" stroke-width="3.5" stroke-linejoin="miter" points="551.0,253.7 576.7,253.7 610.7,286.5"/><polygon points="620.0,295.5 600.4,289.1 612.9,276.2"/>
<polyline fill="none" stroke="#000" stroke-width="3.5" stroke-linejoin="miter" points="736.3,390.5 761.5,390.5 768.3,485.3"/><polygon points="769.2,498.2 758.9,480.4 776.9,479.1"/>
<polyline fill="none" stroke="#000" stroke-width="3.5" stroke-linejoin="miter" points="1075.4,578.5 1049.8,578.5 1003.1,550.2"/><polygon points="992.0,543.5 1012.5,545.4 1003.2,560.8"/>
<polyline fill="none" stroke="#000" stroke-width="3.5" stroke-linejoin="miter" points="596.0,661.0 620.0,661.0 649.7,638.4"/><polygon points="660.0,630.5 650.7,648.9 639.8,634.6"/>
<polyline fill="none" stroke="#000" stroke-width="3.5" stroke-linejoin="miter" points="439.2,762.5 463.5,762.5 419.0,655.7"/><polygon points="414.0,643.7 429.4,657.3 412.8,664.2"/>
<polyline fill="none" stroke="#000" stroke-width="3.5" stroke-linejoin="miter" points="682.4,828.6 707.0,828.6 759.7,787.9"/><polygon points="770.0,780.0 760.8,798.4 749.9,784.2"/>
</g>
<text transform="translate(847,89.2) scale(1,0.975)" x="0" y="0" text-anchor="end" font-family="'Liberation Sans', sans-serif" font-weight="700" font-size="57.3" fill="#000" opacity="0.999">Color coding for typical 120 volt circuit</text>
</svg>
</body>
</html>
